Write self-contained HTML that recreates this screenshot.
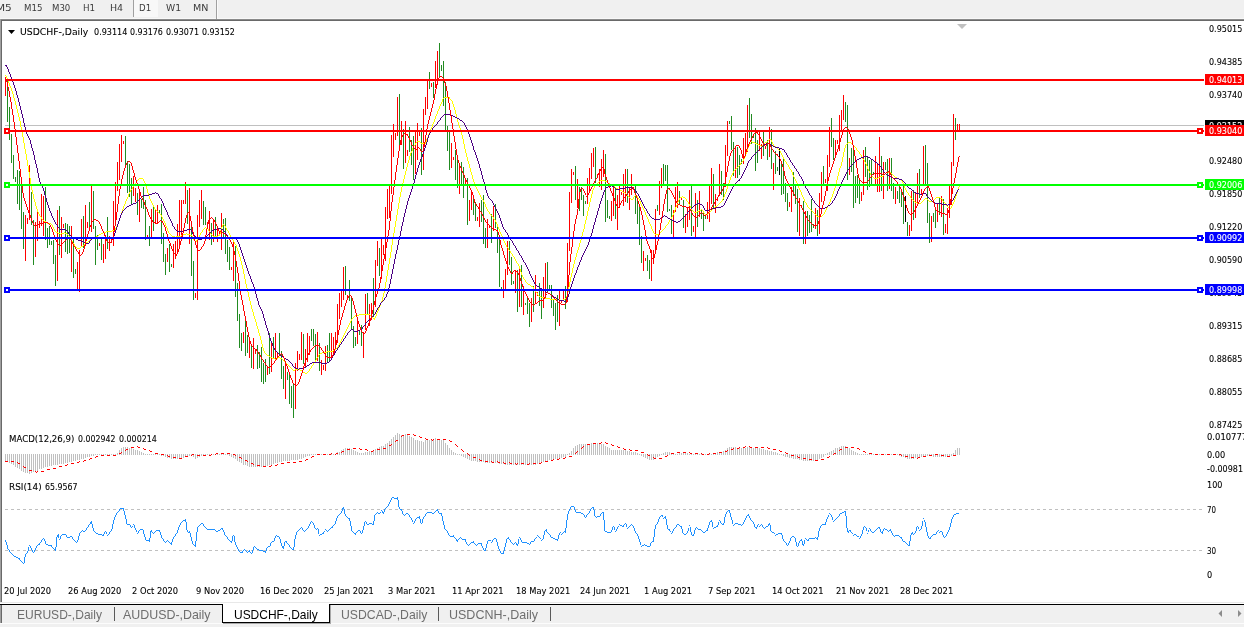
<!DOCTYPE html><html lang="en"><head><meta charset="utf-8"><title>USDCHF-,Daily</title><style>
*{margin:0;padding:0;box-sizing:border-box}
html,body{width:1244px;height:627px;overflow:hidden;background:#fff}
body{position:relative;font-family:"Liberation Sans", sans-serif;font-size:10px;color:#000}
.t{position:absolute;white-space:nowrap;transform-origin:0 0}
.d{font-family:"DejaVu Sans","Liberation Sans",sans-serif;-webkit-text-stroke:0.1px currentColor}
.r{position:absolute}
svg{position:absolute;left:0;top:0}
</style></head><body>
<div class="r" style="left:0px;top:0px;width:1244px;height:19px;background:#f0f0f0"></div>
<div class="r" style="left:0px;top:18px;width:1244px;height:1px;background:#f8f8f8"></div>
<div class="r" style="left:134px;top:0px;width:24px;height:17px;background:#f8f8f8"></div>
<div class="r" style="left:133px;top:0px;width:1px;height:17px;background:#a0a0a0"></div>
<div class="r" style="left:216px;top:0px;width:1px;height:19px;background:#a0a0a0"></div>
<div class="r" style="left:217px;top:0px;width:1px;height:19px;background:#fafafa"></div>
<div class="r" style="left:0px;top:19px;width:1244px;height:1px;background:#8a8a8a"></div>
<div class="r" style="left:0px;top:20px;width:1244px;height:1px;background:#696969"></div>
<div class="r" style="left:0px;top:19px;width:1px;height:584px;background:#a0a0a0"></div>
<div class="r" style="left:1px;top:20px;width:1px;height:583px;background:#696969"></div>
<div class="r" style="left:0px;top:602px;width:1244px;height:1px;background:#e8e8e8"></div>
<div class="r" style="left:0px;top:603px;width:1244px;height:1px;background:#ffffff"></div>
<div class="r" style="left:0px;top:604px;width:1244px;height:1px;background:#000"></div>
<div class="r" style="left:0px;top:605px;width:1244px;height:22px;background:#f0f0f0"></div>
<div class="r" style="left:0px;top:623px;width:1244px;height:1px;background:#fcfcfc"></div>
<div class="r" style="left:0px;top:605px;width:1px;height:18px;background:#a0a0a0"></div>
<div class="r" style="left:1px;top:605px;width:1px;height:18px;background:#696969"></div>
<div class="r" style="left:330px;top:605px;width:1px;height:18px;background:#a8a8a8"></div>
<div class="r" style="left:223px;top:623px;width:108px;height:1px;background:#a8a8a8"></div>
<div class="r" style="left:222px;top:604px;width:108px;height:19px;background:#000"></div>
<div class="r" style="left:223px;top:603px;width:106px;height:19px;background:#fff"></div>
<div class="r" style="left:114px;top:607px;width:1px;height:14px;background:#5a5a5a"></div>
<div class="r" style="left:438px;top:607px;width:1px;height:14px;background:#5a5a5a"></div>
<div class="r" style="left:550px;top:607px;width:1px;height:14px;background:#5a5a5a"></div>
<svg width="1244" height="627" viewBox="0 0 1244 627">
<line x1="5" y1="509.5" x2="1204" y2="509.5" stroke="#c0c0c0" stroke-width="1" stroke-dasharray="3 3" shape-rendering="crispEdges"/>
<line x1="5" y1="550.5" x2="1204" y2="550.5" stroke="#c0c0c0" stroke-width="1" stroke-dasharray="3 3" shape-rendering="crispEdges"/>
<rect x="5" y="125" width="1199" height="1" fill="#c0c0c0" shape-rendering="crispEdges"/>
<path d="M7.5 81V122M9.5 107V140M11.5 134V163M13.5 155V179M15.5 177V182M17.5 170V204M19.5 171V210M21.5 177V229M23.5 212V249M31.5 192V225M33.5 220V265M45.5 187V240M47.5 228V248M49.5 226V245M51.5 241V245M53.5 240V264M55.5 255V286M59.5 206V255M65.5 223V252M67.5 224V254M69.5 226V253M73.5 237V278M75.5 269V274M83.5 216V248M89.5 202V229M93.5 191V229M95.5 226V265M97.5 235V250M101.5 239V260M107.5 217V249M125.5 136V166M127.5 161V193M129.5 164V197M131.5 178V205M137.5 193V215M141.5 199V208M143.5 187V209M145.5 200V240M149.5 226V246M153.5 205V231M159.5 210V213M161.5 204V244M163.5 233V262M165.5 254V275M169.5 244V272M171.5 264V267M187.5 190V224M191.5 224V276M193.5 261V300M203.5 201V225M205.5 207V225M211.5 223V245M215.5 217V236M223.5 219V239M225.5 218V254M227.5 240V262M229.5 247V270M235.5 246V297M237.5 283V321M239.5 314V348M241.5 333V351M245.5 319V356M247.5 335V353M251.5 344V368M257.5 345V369M259.5 352V368M261.5 347V382M263.5 363V384M265.5 359V382M269.5 333V374M273.5 337V359M279.5 333V354M281.5 351V379M283.5 366V389M287.5 372V380M289.5 373V404M291.5 386V408M293.5 383V418M303.5 334V364M311.5 329V341M313.5 329V346M315.5 334V361M319.5 343V371M327.5 345V363M329.5 333V362M345.5 266V295M349.5 280V301M351.5 296V330M353.5 326V348M355.5 337V346M359.5 330V335M361.5 325V346M367.5 293V314M373.5 278V317M379.5 248V276M399.5 94V147M403.5 129V169M409.5 127V152M411.5 140V165M413.5 136V180M421.5 128V175M429.5 72V89M433.5 82V98M439.5 43V78M441.5 65V71M443.5 61V106M445.5 82V132M447.5 126V151M449.5 131V170M455.5 150V180M457.5 158V188M461.5 162V184M463.5 167V198M467.5 178V225M473.5 195V215M475.5 202V221M481.5 200V222M483.5 195V244M485.5 228V248M491.5 214V243M495.5 204V228M497.5 225V253M499.5 240V287M501.5 287V290M509.5 241V265M511.5 257V285M513.5 281V284M517.5 270V312M521.5 265V307M525.5 303V305M527.5 296V314M529.5 303V327M533.5 286V312M539.5 283V306M541.5 291V319M547.5 262V293M549.5 285V289M551.5 285V308M553.5 300V316M555.5 303V330M557.5 295V322M565.5 286V309M575.5 166V200M579.5 187V211M581.5 187V200M583.5 195V216M585.5 201V204M595.5 147V183M605.5 154V222M607.5 200V218M609.5 216V219M615.5 189V219M627.5 169V203M635.5 186V214M637.5 196V224M639.5 206V245M641.5 236V263M647.5 255V271M649.5 260V279M657.5 205V211M663.5 164V184M665.5 165V181M667.5 165V212M669.5 209V211M671.5 205V234M679.5 191V204M683.5 200V228M691.5 186V236M697.5 200V227M701.5 209V219M703.5 212V231M705.5 216V219M713.5 174V208M721.5 171V195M723.5 183V200M729.5 121V124M731.5 116V150M733.5 142V176M737.5 147V178M739.5 155V175M741.5 159V164M749.5 98V138M751.5 114V144M753.5 135V138M755.5 128V171M757.5 140V163M763.5 131V156M767.5 140V160M771.5 129V169M775.5 151V174M777.5 167V171M781.5 164V195M783.5 158V194M785.5 183V202M787.5 193V211M793.5 172V196M795.5 186V204M797.5 189V232M803.5 201V244M807.5 211V236M809.5 215V233M811.5 199V232M813.5 224V228M817.5 210V236M823.5 166V186M831.5 118V147M833.5 138V160M845.5 102V122M847.5 105V180M851.5 148V172M853.5 149V208M855.5 176V203M857.5 175V198M859.5 178V204M865.5 147V177M867.5 157V190M869.5 160V187M871.5 160V186M873.5 172V175M881.5 156V191M885.5 162V170M887.5 159V191M891.5 158V191M893.5 183V199M897.5 191V199M899.5 187V203M901.5 191V207M903.5 186V224M907.5 222V236M913.5 190V220M919.5 169V198M925.5 145V184M927.5 163V223M929.5 213V243M933.5 213V222M935.5 207V228M939.5 198V215M943.5 199V235M955.5 118V140" stroke="#228b22" stroke-width="1" fill="none" shape-rendering="crispEdges"/>
<path d="M5.5 77V96M25.5 215V261M27.5 218V224M29.5 165V220M35.5 222V257M37.5 211V241M39.5 221V228M41.5 194V226M43.5 196V236M57.5 210V281M61.5 217V258M63.5 224V228M71.5 226V272M77.5 262V291M79.5 250V292M81.5 219V246M85.5 205V246M87.5 222V228M91.5 186V232M99.5 243V246M103.5 244V263M105.5 235V259M109.5 236V251M111.5 238V243M113.5 201V246M115.5 182V224M117.5 162V191M119.5 144V180M121.5 135V162M123.5 141V144M133.5 176V196M135.5 188V202M139.5 191V222M147.5 235V237M151.5 209V237M155.5 209V224M157.5 205V224M167.5 248V262M173.5 244V268M175.5 241V259M177.5 224V252M179.5 200V248M181.5 200V238M183.5 200V204M185.5 182V204M189.5 188V244M195.5 293V298M197.5 215V300M199.5 200V227M201.5 190V219M207.5 222V225M209.5 211V240M213.5 220V242M217.5 226V242M219.5 232V235M221.5 213V250M231.5 267V270M233.5 242V281M243.5 332V343M249.5 338V358M253.5 338V369M255.5 350V354M267.5 366V375M271.5 341V372M275.5 333V359M277.5 352V357M285.5 364V399M295.5 363V409M297.5 351V371M299.5 354V360M301.5 332V360M305.5 349V367M307.5 333V362M309.5 336V355M317.5 332V361M321.5 360V375M323.5 365V370M325.5 346V371M331.5 333V358M333.5 337V353M335.5 332V348M337.5 304V343M339.5 293V319M341.5 291V307M343.5 267V300M347.5 295V300M357.5 319V344M363.5 332V358M365.5 294V330M369.5 304V326M371.5 303V320M375.5 260V307M377.5 241V266M381.5 238V279M383.5 245V255M385.5 207V261M387.5 189V219M389.5 186V218M391.5 135V194M393.5 124V157M395.5 133V140M397.5 97V136M401.5 121V145M405.5 121V163M407.5 150V156M415.5 131V174M417.5 123V160M419.5 132V136M423.5 109V170M425.5 97V115M427.5 80V109M431.5 83V87M435.5 61V88M437.5 51V85M451.5 143V168M453.5 157V160M459.5 166V194M465.5 180V184M469.5 200V221M471.5 190V210M477.5 217V221M479.5 203V227M487.5 219V248M489.5 225V228M493.5 206V231M503.5 280V298M505.5 269V289M507.5 241V275M515.5 270V293M519.5 266V307M523.5 286V315M531.5 298V322M535.5 275V304M537.5 292V296M543.5 277V308M545.5 263V298M559.5 291V326M561.5 300V303M563.5 291V300M567.5 243V302M569.5 192V251M571.5 169V203M573.5 172V175M577.5 179V208M587.5 178V204M589.5 168V193M591.5 153V179M593.5 148V167M597.5 174V178M599.5 169V187M601.5 159V190M603.5 150V177M611.5 201V221M613.5 187V216M617.5 195V230M619.5 186V208M621.5 192V195M623.5 174V206M625.5 169V202M629.5 187V210M631.5 174V195M633.5 187V189M643.5 251V271M645.5 258V261M651.5 250V281M653.5 250V264M655.5 209V252M659.5 181V215M661.5 168V188M673.5 210V237M675.5 187V212M677.5 182V208M681.5 198V200M685.5 214V233M687.5 208V227M689.5 190V220M693.5 226V232M695.5 193V237M699.5 191V217M707.5 202V219M709.5 186V222M711.5 168V204M715.5 194V213M717.5 198V201M719.5 164V196M725.5 145V187M727.5 121V156M735.5 148V178M743.5 138V164M745.5 133V156M747.5 105V152M759.5 131V151M761.5 144V159M765.5 146V149M769.5 127V157M773.5 163V190M789.5 202V207M791.5 187V212M799.5 198V236M801.5 205V208M805.5 211V244M815.5 208V229M819.5 193V234M821.5 172V202M825.5 179V183M827.5 155V191M829.5 127V167M835.5 140V156M837.5 140V144M839.5 115V151M841.5 110V131M843.5 95V120M849.5 158V175M861.5 192V201M863.5 150V195M875.5 156V186M877.5 163V192M879.5 137V192M883.5 162V199M889.5 158V189M895.5 187V204M909.5 225V236M911.5 191V231M915.5 192V218M917.5 173V205M921.5 189V194M923.5 146V186M931.5 216V242M937.5 204V222M941.5 196V217M945.5 224V233M947.5 208V234M949.5 185V218M951.5 162V205M953.5 114V166M957.5 124V131M959.5 124V130" stroke="#ff0000" stroke-width="1" fill="none" shape-rendering="crispEdges"/>
<path d="M779.5 149V175M905.5 196V222" stroke="#000000" stroke-width="1" fill="none" shape-rendering="crispEdges"/>
<path d="M5.5 454V462M7.5 454V462M9.5 454V463M11.5 454V464M13.5 454V465M15.5 454V467M17.5 454V468M19.5 454V469M21.5 454V471M23.5 454V472M25.5 454V473M27.5 454V473M29.5 454V474M31.5 454V473M33.5 454V472M35.5 454V471M37.5 454V471M39.5 454V469M41.5 454V469M43.5 454V468M45.5 454V467M47.5 454V467M49.5 454V466M51.5 454V466M53.5 454V465M55.5 454V465M57.5 454V465M59.5 454V464M61.5 454V464M63.5 454V464M65.5 454V463M67.5 454V463M69.5 454V462M71.5 454V462M73.5 454V461M75.5 454V461M77.5 454V460M79.5 454V460M81.5 454V459M83.5 454V459M85.5 454V458M87.5 454V457M89.5 454V457M91.5 454V456M93.5 454V456M95.5 454V455M97.5 454V455M99.5 454V455M101.5 454V455M103.5 454V455M105.5 454V455M107.5 454V455M109.5 454V455M111.5 454V455M113.5 454V455M115.5 454V455M117.5 453V455M119.5 450V455M121.5 448V455M123.5 447V455M125.5 447V455M127.5 447V455M129.5 448V455M131.5 448V455M133.5 449V455M135.5 450V455M137.5 450V455M139.5 451V455M141.5 452V455M143.5 453V455M145.5 454V455M147.5 454V455M149.5 454V455M151.5 454V455M153.5 454V455M155.5 454V455M157.5 454V455M159.5 454V455M161.5 454V456M163.5 454V456M165.5 454V457M167.5 454V458M169.5 454V458M171.5 454V459M173.5 454V459M175.5 454V459M177.5 454V459M179.5 454V459M181.5 454V458M183.5 454V458M185.5 454V457M187.5 454V456M189.5 454V456M191.5 454V456M193.5 454V457M195.5 454V459M197.5 454V458M199.5 454V457M201.5 454V456M203.5 454V456M205.5 454V455M207.5 454V455M209.5 454V455M211.5 454V455M213.5 454V455M215.5 454V455M217.5 454V455M219.5 454V455M221.5 454V455M223.5 454V455M225.5 454V455M227.5 454V455M229.5 454V456M231.5 454V457M233.5 454V458M235.5 454V459M237.5 454V461M239.5 454V462M241.5 454V463M243.5 454V465M245.5 454V465M247.5 454V466M249.5 454V467M251.5 454V467M253.5 454V467M255.5 454V467M257.5 454V467M259.5 454V467M261.5 454V467M263.5 454V467M265.5 454V467M267.5 454V466M269.5 454V465M271.5 454V465M273.5 454V464M275.5 454V463M277.5 454V463M279.5 454V462M281.5 454V462M283.5 454V461M285.5 454V461M287.5 454V461M289.5 454V461M291.5 454V460M293.5 454V460M295.5 454V460M297.5 454V460M299.5 454V459M301.5 454V459M303.5 454V458M305.5 454V457M307.5 454V456M309.5 454V456M311.5 454V455M313.5 454V455M315.5 454V455M317.5 454V455M319.5 454V455M321.5 454V455M323.5 454V455M325.5 454V455M327.5 454V455M329.5 454V455M331.5 454V455M333.5 454V455M335.5 454V455M337.5 452V455M339.5 452V455M341.5 450V455M343.5 449V455M345.5 448V455M347.5 448V455M349.5 448V455M351.5 449V455M353.5 450V455M355.5 451V455M357.5 452V455M359.5 453V455M361.5 453V455M363.5 453V455M365.5 452V455M367.5 452V455M369.5 451V455M371.5 451V455M373.5 450V455M375.5 449V455M377.5 448V455M379.5 447V455M381.5 446V455M383.5 446V455M385.5 444V455M387.5 443V455M389.5 441V455M391.5 439V455M393.5 437V455M395.5 435V455M397.5 433V455M399.5 434V455M401.5 435V455M403.5 435V455M405.5 434V455M407.5 435V455M409.5 436V455M411.5 437V455M413.5 438V455M415.5 440V455M417.5 440V455M419.5 441V455M421.5 441V455M423.5 442V455M425.5 440V455M427.5 440V455M429.5 440V455M431.5 440V455M433.5 439V455M435.5 438V455M437.5 439V455M439.5 439V455M441.5 440V455M443.5 440V455M445.5 443V455M447.5 445V455M449.5 448V455M451.5 450V455M453.5 452V455M455.5 453V455M457.5 454V455M459.5 454V455M461.5 454V456M463.5 454V457M465.5 454V458M467.5 454V459M469.5 454V460M471.5 454V461M473.5 454V461M475.5 454V461M477.5 454V462M479.5 454V462M481.5 454V462M483.5 454V462M485.5 454V463M487.5 454V463M489.5 454V463M491.5 454V463M493.5 454V463M495.5 454V463M497.5 454V463M499.5 454V464M501.5 454V464M503.5 454V464M505.5 454V465M507.5 454V465M509.5 454V465M511.5 454V465M513.5 454V465M515.5 454V465M517.5 454V465M519.5 454V465M521.5 454V465M523.5 454V465M525.5 454V465M527.5 454V465M529.5 454V465M531.5 454V465M533.5 454V465M535.5 454V465M537.5 454V464M539.5 454V463M541.5 454V463M543.5 454V462M545.5 454V461M547.5 454V461M549.5 454V460M551.5 454V460M553.5 454V459M555.5 454V459M557.5 454V459M559.5 454V458M561.5 454V458M563.5 454V457M565.5 454V457M567.5 454V455M569.5 453V455M571.5 451V455M573.5 448V455M575.5 446V455M577.5 445V455M579.5 444V455M581.5 444V455M583.5 444V455M585.5 444V455M587.5 444V455M589.5 444V455M591.5 443V455M593.5 443V455M595.5 443V455M597.5 443V455M599.5 443V455M601.5 444V455M603.5 444V455M605.5 446V455M607.5 447V455M609.5 448V455M611.5 450V455M613.5 450V455M615.5 450V455M617.5 450V455M619.5 450V455M621.5 450V455M623.5 450V455M625.5 450V455M627.5 451V455M629.5 451V455M631.5 452V455M633.5 452V455M635.5 452V455M637.5 453V455M639.5 454V455M641.5 454V456M643.5 454V457M645.5 454V458M647.5 454V459M649.5 454V460M651.5 454V460M653.5 454V460M655.5 454V459M657.5 454V457M659.5 454V456M661.5 454V455M663.5 453V455M665.5 452V455M667.5 452V455M669.5 452V455M671.5 453V455M673.5 453V455M675.5 454V455M677.5 454V455M679.5 453V455M681.5 453V455M683.5 453V455M685.5 453V455M687.5 453V455M689.5 454V455M691.5 454V455M693.5 454V455M695.5 454V455M697.5 454V455M699.5 454V455M701.5 454V455M703.5 454V455M705.5 454V455M707.5 454V455M709.5 454V455M711.5 454V455M713.5 453V455M715.5 453V455M717.5 452V455M719.5 452V455M721.5 452V455M723.5 451V455M725.5 450V455M727.5 448V455M729.5 447V455M731.5 447V455M733.5 447V455M735.5 447V455M737.5 448V455M739.5 448V455M741.5 448V455M743.5 448V455M745.5 448V455M747.5 447V455M749.5 447V455M751.5 447V455M753.5 448V455M755.5 448V455M757.5 448V455M759.5 448V455M761.5 449V455M763.5 449V455M765.5 450V455M767.5 450V455M769.5 451V455M771.5 451V455M773.5 452V455M775.5 452V455M777.5 453V455M779.5 454V455M781.5 454V455M783.5 454V456M785.5 454V457M787.5 454V457M789.5 454V458M791.5 454V458M793.5 454V459M795.5 454V459M797.5 454V459M799.5 454V460M801.5 454V460M803.5 454V461M805.5 454V461M807.5 454V461M809.5 454V461M811.5 454V461M813.5 454V461M815.5 454V461M817.5 454V460M819.5 454V459M821.5 454V458M823.5 454V457M825.5 454V455M827.5 453V455M829.5 452V455M831.5 451V455M833.5 450V455M835.5 448V455M837.5 448V455M839.5 447V455M841.5 446V455M843.5 446V455M845.5 446V455M847.5 447V455M849.5 448V455M851.5 450V455M853.5 451V455M855.5 452V455M857.5 453V455M859.5 454V455M861.5 454V455M863.5 454V455M865.5 454V455M867.5 454V455M869.5 454V455M871.5 454V455M873.5 454V455M875.5 454V455M877.5 454V455M879.5 454V455M881.5 454V455M883.5 454V455M885.5 454V455M887.5 454V455M889.5 454V455M891.5 454V455M893.5 454V455M895.5 454V455M897.5 454V455M899.5 454V456M901.5 454V457M903.5 454V457M905.5 454V458M907.5 454V459M909.5 454V459M911.5 454V459M913.5 454V459M915.5 454V458M917.5 454V458M919.5 454V457M921.5 454V457M923.5 454V456M925.5 454V456M927.5 454V456M929.5 454V456M931.5 454V456M933.5 454V457M935.5 454V457M937.5 454V457M939.5 454V457M941.5 454V457M943.5 454V457M945.5 454V457M947.5 454V457M949.5 454V457M951.5 454V456M953.5 453V455M955.5 450V455M957.5 448V455M959.5 448V455" stroke="#c0c0c0" stroke-width="1" fill="none" shape-rendering="crispEdges"/>
<path d="M5.5 461V462M6.5 461V462M7.5 461V462M11.5 461V462M12.5 461V462M13.5 461V462M17.5 462V463M18.5 463V464M19.5 463V464M23.5 466V467M24.5 467V468M25.5 467V468M29.5 470V471M30.5 470V471M31.5 470V471M35.5 471V472M36.5 472V473M37.5 471V472M41.5 471V472M42.5 471V472M43.5 471V472M47.5 469V470M48.5 469V470M49.5 469V470M53.5 468V469M54.5 468V469M55.5 468V469M59.5 466V467M60.5 466V467M61.5 466V467M65.5 465V466M66.5 465V466M67.5 464V465M71.5 463V464M72.5 463V464M73.5 463V464M77.5 462V463M78.5 462V463M79.5 461V462M83.5 461V462M84.5 460V461M85.5 460V461M89.5 459V460M90.5 458V459M91.5 458V459M95.5 457V458M96.5 456V457M97.5 456V457M101.5 455V456M102.5 455V456M103.5 455V456M107.5 455V456M108.5 455V456M109.5 455V456M113.5 455V456M114.5 455V456M115.5 455V456M119.5 453V454M120.5 453V454M121.5 452V453M125.5 450V451M126.5 449V450M127.5 449V450M131.5 447V448M132.5 447V448M133.5 447V448M137.5 446V447M138.5 447V448M139.5 447V448M143.5 448V449M144.5 449V450M145.5 449V450M149.5 450V451M150.5 451V452M151.5 451V452M155.5 453V454M156.5 453V454M157.5 453V454M161.5 454V455M162.5 454V455M163.5 454V455M167.5 455V456M168.5 456V457M169.5 456V457M173.5 457V458M174.5 457V458M175.5 457V458M179.5 458V459M180.5 458V459M181.5 458V459M185.5 456V457M186.5 456V457M187.5 456V457M191.5 455V456M192.5 454V455M193.5 454V455M197.5 455V456M198.5 455V456M199.5 455V456M203.5 455V456M204.5 455V456M205.5 455V456M209.5 455V456M210.5 455V456M211.5 454V455M215.5 454V455M216.5 453V454M217.5 453V454M221.5 453V454M222.5 453V454M223.5 453V454M227.5 453V454M228.5 453V454M229.5 453V454M233.5 454V455M234.5 454V455M235.5 455V456M239.5 457V458M240.5 457V458M241.5 458V459M245.5 460V461M246.5 460V461M247.5 461V462M251.5 463V464M252.5 463V464M253.5 464V465M257.5 465V466M258.5 465V466M259.5 465V466M263.5 466V467M264.5 466V467M265.5 466V467M269.5 466V467M270.5 466V467M271.5 465V466M275.5 465V466M276.5 465V466M277.5 464V465M281.5 463V464M282.5 463V464M283.5 463V464M287.5 462V463M288.5 462V463M289.5 462V463M293.5 462V463M294.5 462V463M295.5 462V463M299.5 461V462M300.5 461V462M301.5 461V462M305.5 460V461M306.5 459V460M307.5 459V460M311.5 457V458M312.5 456V457M313.5 456V457M317.5 454V455M318.5 454V455M319.5 454V455M323.5 454V455M324.5 454V455M325.5 454V455M329.5 454V455M330.5 454V455M331.5 453V454M335.5 454V455M336.5 453V454M337.5 453V454M341.5 452V453M342.5 451V452M343.5 451V452M347.5 449V450M348.5 449V450M349.5 449V450M353.5 448V449M354.5 448V449M355.5 448V449M359.5 448V449M360.5 449V450M361.5 449V450M365.5 449V450M366.5 449V450M367.5 450V451M371.5 451V452M372.5 451V452M373.5 450V451M377.5 449V450M378.5 449V450M379.5 449V450M383.5 448V449M384.5 448V449M385.5 448V449M389.5 445V446M390.5 445V446M391.5 444V445M395.5 441V442M396.5 440V441M397.5 440V441M401.5 436V437M402.5 435V436M403.5 435V436M407.5 434V435M408.5 434V435M409.5 434V435M413.5 434V435M414.5 435V436M415.5 435V436M419.5 436V437M420.5 437V438M421.5 437V438M425.5 438V439M426.5 439V440M427.5 439V440M431.5 439V440M432.5 440V441M433.5 439V440M437.5 439V440M438.5 439V440M439.5 439V440M443.5 439V440M444.5 439V440M445.5 439V440M449.5 440V441M450.5 441V442M451.5 441V442M455.5 444V445M456.5 445V446M457.5 446V447M461.5 449V450M462.5 450V451M463.5 451V452M467.5 453V454M468.5 454V455M469.5 455V456M473.5 457V458M474.5 457V458M475.5 457V458M479.5 459V460M480.5 460V461M481.5 460V461M485.5 461V462M486.5 461V462M487.5 461V462M491.5 461V462M492.5 462V463M493.5 462V463M497.5 461V462M498.5 462V463M499.5 462V463M503.5 462V463M504.5 463V464M505.5 463V464M509.5 462V463M510.5 463V464M511.5 463V464M515.5 463V464M516.5 464V465M517.5 463V464M521.5 463V464M522.5 463V464M523.5 463V464M527.5 464V465M528.5 464V465M529.5 463V464M533.5 463V464M534.5 463V464M535.5 463V464M539.5 463V464M540.5 463V464M541.5 462V463M545.5 461V462M546.5 461V462M547.5 461V462M551.5 460V461M552.5 460V461M553.5 459V460M557.5 459V460M558.5 459V460M559.5 458V459M563.5 458V459M564.5 458V459M565.5 457V458M569.5 456V457M570.5 456V457M571.5 456V457M575.5 453V454M576.5 452V453M577.5 451V452M581.5 448V449M582.5 447V448M583.5 446V447M587.5 444V445M588.5 444V445M589.5 444V445M593.5 443V444M594.5 443V444M595.5 443V444M599.5 443V444M600.5 443V444M601.5 442V443M605.5 442V443M606.5 443V444M607.5 443V444M611.5 444V445M612.5 445V446M613.5 445V446M617.5 446V447M618.5 447V448M619.5 447V448M623.5 448V449M624.5 449V450M625.5 449V450M629.5 449V450M630.5 450V451M631.5 450V451M635.5 450V451M636.5 450V451M637.5 450V451M641.5 452V453M642.5 452V453M643.5 452V453M647.5 454V455M648.5 455V456M649.5 455V456M653.5 457V458M654.5 458V459M655.5 458V459M659.5 458V459M660.5 458V459M661.5 458V459M665.5 456V457M666.5 456V457M667.5 455V456M671.5 453V454M672.5 453V454M673.5 453V454M677.5 452V453M678.5 452V453M679.5 452V453M683.5 452V453M684.5 452V453M685.5 452V453M689.5 452V453M690.5 453V454M691.5 453V454M695.5 453V454M696.5 453V454M697.5 453V454M701.5 453V454M702.5 454V455M703.5 454V455M707.5 454V455M708.5 454V455M709.5 453V454M713.5 453V454M714.5 453V454M715.5 453V454M719.5 452V453M720.5 452V453M721.5 452V453M725.5 451V452M726.5 451V452M727.5 450V451M731.5 449V450M732.5 449V450M733.5 448V449M737.5 448V449M738.5 448V449M739.5 447V448M743.5 447V448M744.5 447V448M745.5 446V447M749.5 446V447M750.5 447V448M751.5 447V448M755.5 447V448M756.5 447V448M757.5 447V448M761.5 447V448M762.5 447V448M763.5 447V448M767.5 447V448M768.5 448V449M769.5 448V449M773.5 449V450M774.5 449V450M775.5 449V450M779.5 450V451M780.5 451V452M781.5 451V452M785.5 452V453M786.5 453V454M787.5 453V454M791.5 455V456M792.5 455V456M793.5 455V456M797.5 456V457M798.5 457V458M799.5 457V458M803.5 458V459M804.5 458V459M805.5 458V459M809.5 459V460M810.5 459V460M811.5 459V460M815.5 460V461M816.5 460V461M817.5 460V461M821.5 459V460M822.5 459V460M823.5 459V460M827.5 457V458M828.5 457V458M829.5 456V457M833.5 454V455M834.5 453V454M835.5 453V454M839.5 450V451M840.5 449V450M841.5 449V450M845.5 447V448M846.5 447V448M847.5 447V448M851.5 447V448M852.5 447V448M853.5 447V448M857.5 448V449M858.5 448V449M859.5 449V450M863.5 451V452M864.5 451V452M865.5 452V453M869.5 453V454M870.5 453V454M871.5 453V454M875.5 454V455M876.5 454V455M877.5 454V455M881.5 454V455M882.5 454V455M883.5 454V455M887.5 454V455M888.5 454V455M889.5 454V455M893.5 454V455M894.5 454V455M895.5 454V455M899.5 454V455M900.5 454V455M901.5 455V456M905.5 456V457M906.5 456V457M907.5 456V457M911.5 457V458M912.5 457V458M913.5 457V458M917.5 458V459M918.5 457V458M919.5 457V458M923.5 456V457M924.5 456V457M925.5 456V457M929.5 455V456M930.5 455V456M931.5 455V456M935.5 454V455M936.5 454V455M937.5 454V455M941.5 455V456M942.5 455V456M943.5 455V456M947.5 456V457M948.5 456V457M949.5 456V457M953.5 455V456M954.5 455V456M955.5 455V456" stroke="#ff0000" stroke-width="1" fill="none" shape-rendering="crispEdges"/>
<path d="M5.5 540V542M6.5 542V545M7.5 545V549M8.5 549V550M9.5 550V552M10.5 552V553M11.5 553V554M12.5 554V555M13.5 555V556M14.5 556V557M15.5 556V557M16.5 557V558M17.5 557V558M18.5 558V559M19.5 558V560M20.5 560V561M21.5 561V562M22.5 562V563M23.5 563V564M24.5 557V563M25.5 554V557M26.5 553V554M27.5 551V553M28.5 547V551M29.5 545V546M30.5 546V548M31.5 548V550M32.5 550V552M33.5 552V553M34.5 550V552M35.5 548V550M36.5 546V548M37.5 545V546M38.5 544V545M39.5 543V545M40.5 542V543M41.5 540V542M42.5 539V540M43.5 538V539M44.5 539V541M45.5 541V544M46.5 544V545M47.5 544V545M48.5 545V546M49.5 545V546M50.5 545V546M51.5 545V547M52.5 547V548M53.5 548V549M54.5 549V550M55.5 547V551M56.5 537V547M57.5 535V537M58.5 534V538M59.5 539V540M60.5 536V539M61.5 535V536M62.5 534V535M63.5 534V535M64.5 534V535M65.5 534V535M66.5 535V537M67.5 537V538M68.5 537V538M69.5 537V538M70.5 536V537M71.5 536V537M72.5 537V539M73.5 539V540M74.5 540V541M75.5 541V542M76.5 542V543M77.5 540V542M78.5 536V540M79.5 533V536M80.5 532V533M81.5 531V532M82.5 530V531M83.5 531V532M84.5 531V532M85.5 530V531M86.5 528V530M87.5 527V528M88.5 525V527M89.5 524V525M90.5 522V524M91.5 521V524M92.5 524V528M93.5 528V531M94.5 531V532M95.5 532V533M96.5 533V534M97.5 533V534M98.5 534V535M99.5 534V535M100.5 534V535M101.5 534V535M102.5 535V536M103.5 534V536M104.5 532V534M105.5 531V532M106.5 532V534M107.5 535V536M108.5 534V535M109.5 532V534M110.5 531V532M111.5 529V531M112.5 524V529M113.5 520V524M114.5 517V520M115.5 515V517M116.5 513V515M117.5 512V513M118.5 511V512M119.5 509V511M120.5 508V509M121.5 508V509M122.5 508V509M123.5 508V511M124.5 511V515M125.5 515V519M126.5 519V524M127.5 524V525M128.5 524V525M129.5 524V525M130.5 525V527M131.5 527V528M132.5 526V527M133.5 524V525M134.5 525V528M135.5 528V530M136.5 530V532M137.5 533V534M138.5 531V533M139.5 530V531M140.5 529V530M141.5 529V530M142.5 529V530M143.5 530V534M144.5 534V537M145.5 537V540M146.5 540V541M147.5 540V541M148.5 540V541M149.5 538V542M150.5 531V538M151.5 530V532M152.5 532V533M153.5 533V534M154.5 532V533M155.5 531V532M156.5 530V531M157.5 530V531M158.5 530V531M159.5 530V532M160.5 532V535M161.5 535V538M162.5 538V539M163.5 539V541M164.5 541V542M165.5 542V543M166.5 541V542M167.5 540V541M168.5 541V542M169.5 542V543M170.5 543V544M171.5 542V545M172.5 539V542M173.5 537V539M174.5 536V537M175.5 534V536M176.5 533V534M177.5 530V533M178.5 527V530M179.5 525V527M180.5 523V525M181.5 522V523M182.5 521V522M183.5 520V521M184.5 520V521M185.5 519V522M186.5 522V530M187.5 530V532M188.5 532V533M189.5 531V533M190.5 533V537M191.5 537V541M192.5 541V544M193.5 544V545M194.5 545V546M195.5 541V547M196.5 532V541M197.5 527V532M198.5 526V527M199.5 525V526M200.5 524V525M201.5 523V524M202.5 523V524M203.5 524V526M204.5 526V527M205.5 527V528M206.5 528V529M207.5 529V530M208.5 529V530M209.5 529V530M210.5 529V530M211.5 529V530M212.5 529V530M213.5 529V530M214.5 529V530M215.5 530V531M216.5 531V532M217.5 531V532M218.5 530V531M219.5 530V531M220.5 529V530M221.5 528V529M222.5 528V530M223.5 530V532M224.5 532V535M225.5 535V536M226.5 536V537M227.5 537V539M228.5 539V540M229.5 540V541M230.5 541V542M231.5 541V543M232.5 536V541M233.5 535V536M234.5 536V542M235.5 542V545M236.5 545V547M237.5 547V549M238.5 549V551M239.5 551V552M240.5 552V553M241.5 552V553M242.5 551V553M243.5 550V551M244.5 549V550M245.5 550V551M246.5 551V552M247.5 552V553M248.5 551V552M249.5 550V552M250.5 552V553M251.5 553V554M252.5 550V553M253.5 547V550M254.5 546V547M255.5 547V548M256.5 548V549M257.5 549V550M258.5 549V550M259.5 550V551M260.5 550V551M261.5 550V551M262.5 550V551M263.5 551V552M264.5 551V552M265.5 551V553M266.5 548V551M267.5 547V548M268.5 546V547M269.5 546V547M270.5 543V546M271.5 542V543M272.5 541V542M273.5 541V542M274.5 538V541M275.5 536V538M276.5 535V536M277.5 536V537M278.5 536V537M279.5 537V539M280.5 539V543M281.5 543V546M282.5 546V548M283.5 546V549M284.5 542V546M285.5 541V542M286.5 541V543M287.5 543V544M288.5 544V545M289.5 545V547M290.5 547V548M291.5 548V549M292.5 549V550M293.5 547V550M294.5 539V547M295.5 535V539M296.5 532V535M297.5 531V532M298.5 530V531M299.5 529V530M300.5 528V529M301.5 527V528M302.5 528V530M303.5 530V531M304.5 531V532M305.5 530V531M306.5 529V530M307.5 528V529M308.5 526V528M309.5 524V526M310.5 522V524M311.5 521V522M312.5 522V523M313.5 523V525M314.5 525V528M315.5 528V529M316.5 529V530M317.5 528V529M318.5 529V534M319.5 535V536M320.5 534V535M321.5 534V535M322.5 533V534M323.5 532V534M324.5 531V532M325.5 529V530M326.5 530V531M327.5 531V532M328.5 530V531M329.5 529V530M330.5 528V529M331.5 527V528M332.5 526V528M333.5 525V526M334.5 524V525M335.5 521V524M336.5 518V521M337.5 516V518M338.5 515V516M339.5 514V515M340.5 513V514M341.5 511V513M342.5 508V511M343.5 507V509M344.5 509V514M345.5 514V516M346.5 516V517M347.5 517V518M348.5 518V519M349.5 518V521M350.5 521V526M351.5 526V531M352.5 531V532M353.5 532V533M354.5 533V534M355.5 533V535M356.5 532V533M357.5 531V532M358.5 530V531M359.5 530V531M360.5 531V533M361.5 533V534M362.5 530V533M363.5 526V530M364.5 522V526M365.5 521V522M366.5 522V524M367.5 524V525M368.5 524V525M369.5 523V524M370.5 523V524M371.5 523V524M372.5 524V525M373.5 521V525M374.5 515V521M375.5 514V515M376.5 513V514M377.5 512V513M378.5 513V514M379.5 513V514M380.5 512V513M381.5 510V511M382.5 511V513M383.5 512V514M384.5 509V512M385.5 508V509M386.5 507V508M387.5 506V507M388.5 504V506M389.5 502V504M390.5 500V502M391.5 498V500M392.5 497V498M393.5 497V498M394.5 498V499M395.5 498V499M396.5 498V499M397.5 497V500M398.5 500V507M399.5 507V509M400.5 509V510M401.5 509V511M402.5 511V514M403.5 514V515M404.5 515V516M405.5 514V515M406.5 513V514M407.5 513V514M408.5 514V515M409.5 515V517M410.5 517V518M411.5 518V520M412.5 520V522M413.5 523V524M414.5 521V523M415.5 519V521M416.5 518V519M417.5 517V518M418.5 517V518M419.5 516V519M420.5 519V523M421.5 523V524M422.5 519V523M423.5 517V519M424.5 516V517M425.5 514V516M426.5 513V514M427.5 512V513M428.5 512V513M429.5 512V513M430.5 512V513M431.5 512V513M432.5 513V514M433.5 513V514M434.5 512V513M435.5 511V512M436.5 510V511M437.5 509V511M438.5 511V513M439.5 513V514M440.5 513V514M441.5 513V516M442.5 516V521M443.5 521V525M444.5 525V529M445.5 529V530M446.5 530V531M447.5 531V533M448.5 533V535M449.5 535V536M450.5 536V537M451.5 536V537M452.5 536V537M453.5 535V537M454.5 537V538M455.5 538V539M456.5 539V541M457.5 540V542M458.5 539V540M459.5 538V539M460.5 537V538M461.5 538V539M462.5 539V540M463.5 539V540M464.5 539V540M465.5 539V542M466.5 542V544M467.5 544V545M468.5 545V546M469.5 544V545M470.5 543V544M471.5 542V543M472.5 542V543M473.5 541V543M474.5 543V544M475.5 544V545M476.5 545V546M477.5 544V545M478.5 543V544M479.5 543V544M480.5 543V544M481.5 543V546M482.5 546V548M483.5 548V550M484.5 550V551M485.5 548V551M486.5 544V548M487.5 541V544M488.5 540V541M489.5 540V541M490.5 540V541M491.5 542V543M492.5 540V542M493.5 539V540M494.5 538V539M495.5 538V539M496.5 539V542M497.5 542V546M498.5 546V549M499.5 549V551M500.5 551V553M501.5 553V554M502.5 553V554M503.5 551V554M504.5 547V551M505.5 543V547M506.5 539V543M507.5 538V539M508.5 537V539M509.5 539V540M510.5 540V542M511.5 542V543M512.5 543V544M513.5 544V545M514.5 543V544M515.5 542V543M516.5 543V545M517.5 544V546M518.5 539V544M519.5 537V538M520.5 538V540M521.5 540V542M522.5 542V543M523.5 542V543M524.5 542V543M525.5 542V543M526.5 542V543M527.5 543V544M528.5 543V544M529.5 544V545M530.5 542V544M531.5 541V542M532.5 541V542M533.5 541V542M534.5 539V541M535.5 538V539M536.5 537V538M537.5 535V536M538.5 536V537M539.5 537V538M540.5 538V539M541.5 540V541M542.5 539V540M543.5 535V539M544.5 531V535M545.5 530V531M546.5 529V532M547.5 532V533M548.5 533V534M549.5 534V535M550.5 535V537M551.5 537V538M552.5 537V538M553.5 538V539M554.5 538V539M555.5 539V540M556.5 539V540M557.5 539V541M558.5 535V539M559.5 533V535M560.5 532V533M561.5 534V535M562.5 533V534M563.5 532V533M564.5 531V532M565.5 528V533M566.5 520V528M567.5 514V520M568.5 511V514M569.5 509V511M570.5 507V509M571.5 506V507M572.5 506V507M573.5 506V507M574.5 507V510M575.5 510V512M576.5 512V513M577.5 512V513M578.5 512V513M579.5 512V513M580.5 512V513M581.5 513V514M582.5 513V514M583.5 514V515M584.5 515V517M585.5 517V518M586.5 515V517M587.5 514V515M588.5 513V514M589.5 511V513M590.5 509V511M591.5 508V509M592.5 507V508M593.5 507V510M594.5 510V516M595.5 516V517M596.5 517V518M597.5 516V517M598.5 516V517M599.5 516V517M600.5 514V516M601.5 513V514M602.5 512V513M603.5 512V520M604.5 520V531M605.5 531V532M606.5 531V532M607.5 532V533M608.5 532V533M609.5 532V533M610.5 532V533M611.5 530V532M612.5 527V530M613.5 526V527M614.5 527V530M615.5 531V532M616.5 529V531M617.5 527V529M618.5 526V527M619.5 524V525M620.5 525V526M621.5 525V526M622.5 526V527M623.5 525V527M624.5 524V525M625.5 523V524M626.5 524V527M627.5 528V529M628.5 527V528M629.5 526V527M630.5 525V526M631.5 524V525M632.5 525V526M633.5 526V528M634.5 528V531M635.5 531V533M636.5 533V534M637.5 534V536M638.5 536V539M639.5 539V542M640.5 542V545M641.5 546V547M642.5 545V546M643.5 545V546M644.5 544V545M645.5 545V546M646.5 545V546M647.5 546V547M648.5 546V547M649.5 546V547M650.5 543V546M651.5 542V543M652.5 541V542M653.5 537V542M654.5 529V537M655.5 525V529M656.5 524V525M657.5 522V524M658.5 519V522M659.5 517V519M660.5 516V517M661.5 515V516M662.5 515V517M663.5 518V519M664.5 517V518M665.5 516V519M666.5 519V525M667.5 525V529M668.5 529V530M669.5 529V531M670.5 531V532M671.5 533V534M672.5 531V533M673.5 529V531M674.5 528V529M675.5 527V528M676.5 525V527M677.5 524V525M678.5 524V525M679.5 525V526M680.5 526V527M681.5 526V529M682.5 529V533M683.5 533V534M684.5 534V535M685.5 534V535M686.5 533V534M687.5 531V533M688.5 528V531M689.5 525V526M690.5 527V532M691.5 532V535M692.5 535V536M693.5 534V536M694.5 530V534M695.5 528V530M696.5 527V528M697.5 528V529M698.5 529V530M699.5 529V530M700.5 529V530M701.5 530V531M702.5 531V532M703.5 532V533M704.5 532V533M705.5 531V532M706.5 530V531M707.5 528V531M708.5 525V528M709.5 522V525M710.5 521V522M711.5 520V522M712.5 522V527M713.5 528V529M714.5 527V528M715.5 527V528M716.5 526V527M717.5 525V527M718.5 522V525M719.5 520V521M720.5 521V523M721.5 523V524M722.5 524V525M723.5 523V525M724.5 517V523M725.5 514V517M726.5 512V514M727.5 511V512M728.5 510V511M729.5 510V513M730.5 513V517M731.5 517V520M732.5 520V524M733.5 525V526M734.5 524V525M735.5 523V524M736.5 523V524M737.5 523V524M738.5 524V525M739.5 524V525M740.5 524V525M741.5 525V526M742.5 524V525M743.5 522V524M744.5 520V522M745.5 518V520M746.5 516V518M747.5 515V516M748.5 514V516M749.5 516V518M750.5 518V520M751.5 520V521M752.5 521V522M753.5 522V524M754.5 524V527M755.5 527V528M756.5 527V529M757.5 525V527M758.5 524V525M759.5 526V527M760.5 525V526M761.5 524V525M762.5 525V527M763.5 527V528M764.5 528V529M765.5 527V528M766.5 526V527M767.5 526V527M768.5 524V526M769.5 523V525M770.5 525V531M771.5 531V532M772.5 532V533M773.5 532V533M774.5 533V534M775.5 535V536M776.5 534V535M777.5 534V535M778.5 533V534M779.5 533V534M780.5 533V534M781.5 533V535M782.5 535V539M783.5 539V541M784.5 541V542M785.5 542V543M786.5 543V545M787.5 545V546M788.5 543V545M789.5 541V543M790.5 538V541M791.5 537V538M792.5 536V537M793.5 536V537M794.5 537V538M795.5 538V542M796.5 542V546M797.5 546V547M798.5 543V546M799.5 541V543M800.5 540V541M801.5 539V541M802.5 541V545M803.5 544V546M804.5 540V544M805.5 538V539M806.5 539V540M807.5 540V541M808.5 539V541M809.5 538V539M810.5 538V539M811.5 538V539M812.5 538V539M813.5 538V539M814.5 538V539M815.5 537V538M816.5 538V539M817.5 537V540M818.5 531V537M819.5 528V531M820.5 526V528M821.5 525V526M822.5 524V525M823.5 524V525M824.5 524V525M825.5 522V525M826.5 519V522M827.5 517V519M828.5 515V517M829.5 513V514M830.5 514V515M831.5 515V517M832.5 517V520M833.5 521V522M834.5 520V521M835.5 519V520M836.5 518V519M837.5 517V518M838.5 516V517M839.5 514V516M840.5 513V514M841.5 513V514M842.5 512V513M843.5 512V513M844.5 511V512M845.5 511V516M846.5 516V528M847.5 528V532M848.5 531V533M849.5 530V531M850.5 530V532M851.5 532V533M852.5 533V534M853.5 535V536M854.5 534V535M855.5 534V535M856.5 535V536M857.5 536V537M858.5 536V537M859.5 538V539M860.5 536V538M861.5 534V536M862.5 530V534M863.5 527V530M864.5 526V527M865.5 527V528M866.5 528V531M867.5 533V534M868.5 530V532M869.5 528V529M870.5 529V531M871.5 531V532M872.5 532V533M873.5 532V533M874.5 531V532M875.5 530V531M876.5 529V530M877.5 528V529M878.5 527V528M879.5 527V529M880.5 529V532M881.5 532V533M882.5 531V534M883.5 529V531M884.5 528V529M885.5 529V530M886.5 529V530M887.5 530V531M888.5 531V532M889.5 530V531M890.5 529V531M891.5 531V533M892.5 533V535M893.5 535V536M894.5 536V537M895.5 535V536M896.5 535V536M897.5 535V536M898.5 535V536M899.5 536V537M900.5 537V538M901.5 537V539M902.5 539V541M903.5 541V542M904.5 541V542M905.5 542V543M906.5 543V544M907.5 544V545M908.5 545V546M909.5 541V546M910.5 535V541M911.5 533V535M912.5 532V534M913.5 534V535M914.5 533V534M915.5 531V533M916.5 527V531M917.5 526V527M918.5 527V529M919.5 530V531M920.5 529V530M921.5 526V529M922.5 521V526M923.5 518V519M924.5 520V522M925.5 522V527M926.5 527V532M927.5 532V536M928.5 536V538M929.5 538V539M930.5 537V539M931.5 536V537M932.5 535V536M933.5 534V535M934.5 534V535M935.5 534V535M936.5 532V534M937.5 531V532M938.5 530V531M939.5 532V533M940.5 531V532M941.5 531V532M942.5 532V535M943.5 535V537M944.5 537V538M945.5 536V537M946.5 534V536M947.5 532V534M948.5 530V532M949.5 527V530M950.5 523V527M951.5 519V523M952.5 517V519M953.5 515V517M954.5 514V515M955.5 514V515M956.5 513V514M957.5 513V514M958.5 513V514" stroke="#1e90ff" stroke-width="1" fill="none" shape-rendering="crispEdges"/>
<path d="M5.5 75V76M6.5 76V78M7.5 78V80M8.5 80V83M9.5 83V86M10.5 86V88M11.5 88V91M12.5 91V94M13.5 94V98M14.5 98V101M15.5 101V105M16.5 105V109M17.5 109V113M18.5 113V117M19.5 117V121M20.5 121V127M21.5 127V132M22.5 132V137M23.5 137V143M24.5 143V149M25.5 149V154M26.5 154V160M27.5 160V166M28.5 166V172M29.5 172V178M30.5 178V184M31.5 184V190M32.5 190V194M33.5 194V199M34.5 199V202M35.5 202V206M36.5 206V209M37.5 209V212M38.5 212V214M39.5 214V216M40.5 216V217M41.5 217V219M42.5 219V220M43.5 220V221M44.5 221V222M45.5 221V222M46.5 222V223M47.5 223V224M48.5 223V224M49.5 223V224M50.5 223V224M51.5 224V225M52.5 225V227M53.5 227V229M54.5 229V231M55.5 231V232M56.5 232V233M57.5 232V233M58.5 233V234M59.5 233V234M60.5 234V235M61.5 233V234M62.5 233V234M63.5 233V234M64.5 232V233M65.5 233V234M66.5 233V234M67.5 234V235M68.5 235V236M69.5 236V238M70.5 238V239M71.5 239V241M72.5 241V243M73.5 243V244M74.5 244V246M75.5 246V247M76.5 247V248M77.5 248V249M78.5 248V249M79.5 248V249M80.5 247V248M81.5 246V247M82.5 246V247M83.5 245V246M84.5 244V245M85.5 243V244M86.5 242V243M87.5 242V243M88.5 241V242M89.5 240V241M90.5 239V240M91.5 239V240M92.5 238V239M93.5 238V239M94.5 237V238M95.5 237V238M96.5 236V237M97.5 236V237M98.5 235V236M99.5 234V235M100.5 234V235M101.5 233V234M102.5 233V234M103.5 232V233M104.5 232V233M105.5 232V233M106.5 231V232M107.5 231V232M108.5 231V232M109.5 231V232M110.5 231V232M111.5 231V232M112.5 230V231M113.5 230V231M114.5 230V231M115.5 228V230M116.5 226V228M117.5 224V226M118.5 221V224M119.5 218V221M120.5 215V218M121.5 212V215M122.5 209V212M123.5 206V209M124.5 204V206M125.5 201V204M126.5 199V201M127.5 197V199M128.5 194V197M129.5 192V194M130.5 190V192M131.5 189V190M132.5 187V189M133.5 185V187M134.5 184V185M135.5 183V184M136.5 181V183M137.5 180V181M138.5 179V180M139.5 178V179M140.5 178V179M141.5 178V179M142.5 178V179M143.5 179V181M144.5 181V183M145.5 183V186M146.5 186V189M147.5 189V193M148.5 193V196M149.5 196V199M150.5 199V201M151.5 201V203M152.5 203V205M153.5 205V207M154.5 207V209M155.5 209V210M156.5 210V211M157.5 211V212M158.5 212V213M159.5 213V214M160.5 214V215M161.5 215V217M162.5 217V219M163.5 219V221M164.5 221V223M165.5 223V226M166.5 226V228M167.5 228V231M168.5 231V233M169.5 233V234M170.5 234V235M171.5 235V236M172.5 236V237M173.5 236V237M174.5 236V237M175.5 237V238M176.5 236V237M177.5 236V237M178.5 236V237M179.5 236V237M180.5 236V237M181.5 235V236M182.5 235V236M183.5 234V235M184.5 234V235M185.5 234V235M186.5 233V234M187.5 234V235M188.5 234V235M189.5 234V235M190.5 235V236M191.5 235V236M192.5 236V238M193.5 238V240M194.5 240V241M195.5 241V242M196.5 240V242M197.5 238V240M198.5 237V238M199.5 235V237M200.5 233V235M201.5 232V233M202.5 230V232M203.5 229V230M204.5 228V229M205.5 227V228M206.5 228V229M207.5 228V229M208.5 229V231M209.5 231V232M210.5 232V234M211.5 234V235M212.5 235V236M213.5 236V237M214.5 236V237M215.5 236V237M216.5 236V237M217.5 236V237M218.5 235V236M219.5 234V236M220.5 230V234M221.5 227V230M222.5 225V227M223.5 224V225M224.5 225V226M225.5 226V228M226.5 228V230M227.5 230V231M228.5 231V233M229.5 233V235M230.5 235V237M231.5 237V238M232.5 238V240M233.5 240V242M234.5 242V244M235.5 244V245M236.5 245V248M237.5 248V251M238.5 251V254M239.5 254V257M240.5 257V261M241.5 261V265M242.5 265V269M243.5 269V274M244.5 274V279M245.5 279V284M246.5 284V288M247.5 288V292M248.5 292V297M249.5 297V301M250.5 301V305M251.5 305V309M252.5 309V312M253.5 312V316M254.5 316V319M255.5 319V322M256.5 322V326M257.5 326V329M258.5 329V333M259.5 333V336M260.5 336V340M261.5 340V344M262.5 344V348M263.5 348V351M264.5 351V353M265.5 353V354M266.5 354V355M267.5 355V356M268.5 355V356M269.5 356V357M270.5 357V358M271.5 357V358M272.5 358V359M273.5 358V359M274.5 358V359M275.5 359V360M276.5 358V359M277.5 358V359M278.5 357V358M279.5 357V358M280.5 358V359M281.5 358V359M282.5 359V360M283.5 360V361M284.5 361V362M285.5 362V363M286.5 363V364M287.5 364V365M288.5 365V366M289.5 366V367M290.5 367V368M291.5 368V369M292.5 369V370M293.5 370V371M294.5 370V371M295.5 369V370M296.5 369V370M297.5 369V370M298.5 369V370M299.5 369V370M300.5 370V371M301.5 370V371M302.5 371V372M303.5 372V373M304.5 372V373M305.5 373V374M306.5 373V374M307.5 372V373M308.5 371V372M309.5 369V371M310.5 368V369M311.5 366V368M312.5 365V366M313.5 363V365M314.5 362V363M315.5 360V362M316.5 358V360M317.5 357V358M318.5 355V357M319.5 354V355M320.5 353V354M321.5 353V354M322.5 352V353M323.5 352V353M324.5 352V353M325.5 352V353M326.5 352V353M327.5 351V352M328.5 351V352M329.5 351V352M330.5 351V352M331.5 351V352M332.5 351V352M333.5 350V351M334.5 350V351M335.5 349V350M336.5 348V349M337.5 347V348M338.5 345V347M339.5 343V345M340.5 341V343M341.5 339V341M342.5 337V339M343.5 335V337M344.5 333V335M345.5 331V333M346.5 329V331M347.5 327V329M348.5 325V327M349.5 323V325M350.5 321V323M351.5 319V321M352.5 318V319M353.5 317V318M354.5 316V317M355.5 315V316M356.5 315V316M357.5 315V316M358.5 315V316M359.5 314V315M360.5 314V315M361.5 314V315M362.5 314V315M363.5 314V315M364.5 314V315M365.5 314V315M366.5 314V315M367.5 314V315M368.5 314V315M369.5 314V315M370.5 315V316M371.5 315V317M372.5 317V318M373.5 318V319M374.5 318V320M375.5 316V318M376.5 313V316M377.5 311V313M378.5 308V311M379.5 306V308M380.5 303V306M381.5 301V303M382.5 297V301M383.5 293V297M384.5 288V293M385.5 282V288M386.5 276V282M387.5 270V276M388.5 264V270M389.5 258V264M390.5 252V258M391.5 245V252M392.5 239V245M393.5 233V239M394.5 227V233M395.5 221V227M396.5 215V221M397.5 209V215M398.5 203V209M399.5 197V203M400.5 192V197M401.5 187V192M402.5 183V187M403.5 179V183M404.5 175V179M405.5 171V175M406.5 167V171M407.5 163V167M408.5 160V163M409.5 156V160M410.5 153V156M411.5 151V153M412.5 148V151M413.5 146V148M414.5 145V146M415.5 143V145M416.5 142V143M417.5 141V142M418.5 141V142M419.5 141V142M420.5 142V143M421.5 143V144M422.5 143V144M423.5 143V144M424.5 143V144M425.5 142V144M426.5 139V142M427.5 137V139M428.5 134V137M429.5 132V134M430.5 129V132M431.5 127V129M432.5 124V127M433.5 122V124M434.5 119V122M435.5 116V119M436.5 114V116M437.5 111V114M438.5 109V111M439.5 106V109M440.5 104V106M441.5 102V104M442.5 99V102M443.5 98V99M444.5 97V98M445.5 97V98M446.5 97V98M447.5 97V98M448.5 97V98M449.5 97V99M450.5 99V100M451.5 100V101M452.5 101V104M453.5 104V107M454.5 107V110M455.5 110V114M456.5 114V118M457.5 118V122M458.5 122V125M459.5 125V128M460.5 128V131M461.5 131V135M462.5 135V139M463.5 139V144M464.5 144V149M465.5 149V153M466.5 153V157M467.5 157V161M468.5 161V164M469.5 164V168M470.5 168V172M471.5 172V175M472.5 175V179M473.5 179V182M474.5 182V184M475.5 184V187M476.5 187V189M477.5 189V191M478.5 191V193M479.5 193V195M480.5 195V197M481.5 197V199M482.5 199V200M483.5 200V202M484.5 202V204M485.5 204V207M486.5 207V209M487.5 209V211M488.5 211V212M489.5 212V214M490.5 214V215M491.5 215V216M492.5 216V217M493.5 217V219M494.5 219V220M495.5 220V222M496.5 222V224M497.5 224V227M498.5 227V229M499.5 229V232M500.5 232V234M501.5 234V236M502.5 236V239M503.5 239V241M504.5 241V243M505.5 243V245M506.5 245V247M507.5 247V248M508.5 248V250M509.5 250V251M510.5 251V253M511.5 253V254M512.5 254V256M513.5 256V257M514.5 257V259M515.5 259V261M516.5 261V263M517.5 263V264M518.5 264V266M519.5 266V269M520.5 269V272M521.5 272V275M522.5 275V277M523.5 277V279M524.5 279V280M525.5 280V282M526.5 282V283M527.5 283V284M528.5 284V285M529.5 284V285M530.5 285V286M531.5 286V287M532.5 286V287M533.5 287V289M534.5 289V290M535.5 290V292M536.5 292V293M537.5 293V295M538.5 295V296M539.5 296V297M540.5 296V297M541.5 297V298M542.5 297V298M543.5 297V298M544.5 298V299M545.5 298V299M546.5 298V299M547.5 298V299M548.5 298V299M549.5 298V299M550.5 299V300M551.5 299V300M552.5 299V300M553.5 299V300M554.5 299V300M555.5 299V300M556.5 299V300M557.5 299V300M558.5 299V300M559.5 299V300M560.5 300V301M561.5 300V301M562.5 300V301M563.5 299V300M564.5 299V300M565.5 298V299M566.5 296V298M567.5 292V296M568.5 287V292M569.5 282V287M570.5 277V282M571.5 273V277M572.5 268V273M573.5 264V268M574.5 260V264M575.5 257V260M576.5 253V257M577.5 250V253M578.5 247V250M579.5 243V247M580.5 240V243M581.5 236V240M582.5 232V236M583.5 229V232M584.5 224V229M585.5 220V224M586.5 216V220M587.5 211V216M588.5 207V211M589.5 202V207M590.5 198V202M591.5 194V198M592.5 190V194M593.5 188V190M594.5 186V188M595.5 185V186M596.5 184V185M597.5 183V184M598.5 182V183M599.5 181V182M600.5 180V181M601.5 180V181M602.5 180V181M603.5 180V181M604.5 180V181M605.5 181V182M606.5 181V182M607.5 182V183M608.5 183V184M609.5 183V184M610.5 184V185M611.5 185V186M612.5 185V186M613.5 186V187M614.5 186V187M615.5 187V188M616.5 188V189M617.5 188V189M618.5 189V190M619.5 189V190M620.5 190V191M621.5 190V191M622.5 191V192M623.5 192V193M624.5 192V193M625.5 193V194M626.5 194V195M627.5 195V196M628.5 196V197M629.5 197V198M630.5 198V199M631.5 199V200M632.5 199V200M633.5 197V199M634.5 196V197M635.5 195V196M636.5 195V196M637.5 196V198M638.5 198V199M639.5 199V201M640.5 201V204M641.5 204V206M642.5 206V208M643.5 208V210M644.5 210V212M645.5 212V215M646.5 215V217M647.5 217V219M648.5 219V222M649.5 222V224M650.5 224V226M651.5 226V229M652.5 229V231M653.5 231V233M654.5 233V234M655.5 234V235M656.5 234V235M657.5 234V235M658.5 234V235M659.5 233V234M660.5 232V233M661.5 231V232M662.5 230V231M663.5 229V230M664.5 228V229M665.5 226V228M666.5 225V226M667.5 224V225M668.5 222V224M669.5 220V222M670.5 219V220M671.5 217V219M672.5 215V217M673.5 213V215M674.5 210V213M675.5 207V210M676.5 205V207M677.5 202V205M678.5 200V202M679.5 198V200M680.5 197V198M681.5 197V198M682.5 196V197M683.5 197V198M684.5 197V198M685.5 198V199M686.5 199V201M687.5 201V202M688.5 202V204M689.5 204V206M690.5 206V208M691.5 208V210M692.5 210V211M693.5 211V212M694.5 212V213M695.5 212V213M696.5 212V213M697.5 211V212M698.5 211V212M699.5 210V211M700.5 210V211M701.5 209V210M702.5 210V211M703.5 211V213M704.5 213V214M705.5 214V215M706.5 214V215M707.5 214V215M708.5 213V214M709.5 212V213M710.5 211V212M711.5 210V211M712.5 209V210M713.5 208V209M714.5 207V208M715.5 206V207M716.5 206V207M717.5 205V206M718.5 204V205M719.5 203V204M720.5 202V203M721.5 201V202M722.5 199V201M723.5 197V199M724.5 194V197M725.5 192V194M726.5 189V192M727.5 186V189M728.5 183V186M729.5 180V183M730.5 177V180M731.5 175V177M732.5 173V175M733.5 171V173M734.5 170V171M735.5 169V170M736.5 168V169M737.5 167V168M738.5 166V167M739.5 165V166M740.5 163V165M741.5 162V163M742.5 161V162M743.5 159V161M744.5 157V159M745.5 154V157M746.5 151V154M747.5 148V151M748.5 146V148M749.5 144V146M750.5 143V144M751.5 141V142M752.5 142V143M753.5 142V143M754.5 142V143M755.5 143V144M756.5 143V144M757.5 144V145M758.5 144V145M759.5 145V146M760.5 145V146M761.5 146V147M762.5 145V146M763.5 145V146M764.5 143V145M765.5 142V143M766.5 142V143M767.5 141V142M768.5 140V141M769.5 139V140M770.5 139V140M771.5 140V142M772.5 142V144M773.5 144V146M774.5 146V147M775.5 146V147M776.5 147V148M777.5 148V149M778.5 149V150M779.5 150V151M780.5 151V153M781.5 153V155M782.5 155V157M783.5 157V159M784.5 159V161M785.5 161V162M786.5 162V164M787.5 164V165M788.5 165V167M789.5 167V169M790.5 169V170M791.5 170V172M792.5 172V175M793.5 175V177M794.5 177V179M795.5 179V181M796.5 181V183M797.5 183V186M798.5 186V188M799.5 188V190M800.5 190V192M801.5 192V195M802.5 195V197M803.5 197V199M804.5 199V202M805.5 202V203M806.5 203V205M807.5 205V207M808.5 207V208M809.5 208V209M810.5 209V210M811.5 210V211M812.5 211V212M813.5 212V213M814.5 213V214M815.5 214V215M816.5 215V216M817.5 216V217M818.5 216V217M819.5 217V218M820.5 216V217M821.5 216V217M822.5 215V216M823.5 214V215M824.5 212V214M825.5 210V212M826.5 208V210M827.5 206V208M828.5 204V206M829.5 202V204M830.5 199V202M831.5 197V199M832.5 194V197M833.5 191V194M834.5 188V191M835.5 184V188M836.5 180V184M837.5 176V180M838.5 172V176M839.5 168V172M840.5 166V168M841.5 162V166M842.5 157V162M843.5 152V157M844.5 148V152M845.5 145V148M846.5 144V145M847.5 143V144M848.5 142V143M849.5 142V143M850.5 142V143M851.5 143V144M852.5 144V145M853.5 145V146M854.5 146V147M855.5 147V148M856.5 148V150M857.5 150V151M858.5 151V152M859.5 152V154M860.5 154V155M861.5 155V157M862.5 157V159M863.5 159V160M864.5 160V162M865.5 162V164M866.5 164V166M867.5 166V169M868.5 169V171M869.5 171V173M870.5 173V175M871.5 175V176M872.5 176V177M873.5 177V178M874.5 178V179M875.5 178V179M876.5 178V179M877.5 178V179M878.5 177V178M879.5 177V178M880.5 176V177M881.5 176V177M882.5 176V177M883.5 175V176M884.5 174V175M885.5 173V174M886.5 172V173M887.5 172V173M888.5 172V173M889.5 172V173M890.5 172V173M891.5 173V174M892.5 174V175M893.5 175V176M894.5 176V177M895.5 177V178M896.5 177V178M897.5 178V179M898.5 178V179M899.5 179V180M900.5 179V180M901.5 180V181M902.5 181V183M903.5 183V186M904.5 186V188M905.5 188V190M906.5 190V192M907.5 192V193M908.5 193V195M909.5 195V196M910.5 196V198M911.5 198V199M912.5 199V200M913.5 200V201M914.5 201V202M915.5 202V203M916.5 202V203M917.5 203V204M918.5 203V204M919.5 203V204M920.5 203V204M921.5 202V203M922.5 201V202M923.5 200V201M924.5 199V200M925.5 198V199M926.5 198V199M927.5 199V200M928.5 200V201M929.5 201V202M930.5 201V202M931.5 201V202M932.5 201V202M933.5 200V201M934.5 199V200M935.5 198V199M936.5 197V198M937.5 197V198M938.5 197V198M939.5 197V198M940.5 198V199M941.5 198V199M942.5 199V201M943.5 201V202M944.5 202V203M945.5 203V205M946.5 205V206M947.5 206V207M948.5 207V208M949.5 208V209M950.5 208V209M951.5 206V208M952.5 204V206M953.5 202V204M954.5 199V202M955.5 196V199M956.5 193V196M957.5 190V193M958.5 187V190M959.5 186V187" stroke="#ffff00" stroke-width="1" fill="none" shape-rendering="crispEdges"/>
<path d="M5.5 65V66M6.5 65V67M7.5 67V69M8.5 69V72M9.5 72V74M10.5 74V77M11.5 77V79M12.5 79V82M13.5 82V85M14.5 85V88M15.5 88V91M16.5 91V95M17.5 95V98M18.5 98V102M19.5 102V106M20.5 106V110M21.5 110V114M22.5 114V118M23.5 118V123M24.5 123V127M25.5 127V131M26.5 131V134M27.5 134V136M28.5 136V138M29.5 138V140M30.5 140V144M31.5 144V148M32.5 148V151M33.5 151V155M34.5 155V160M35.5 160V164M36.5 164V168M37.5 168V173M38.5 173V178M39.5 178V182M40.5 182V184M41.5 184V186M42.5 186V188M43.5 188V191M44.5 191V195M45.5 195V198M46.5 198V202M47.5 202V205M48.5 205V208M49.5 208V211M50.5 211V213M51.5 213V216M52.5 216V218M53.5 218V220M54.5 220V222M55.5 222V224M56.5 224V225M57.5 225V227M58.5 227V228M59.5 228V229M60.5 229V230M61.5 229V230M62.5 229V230M63.5 229V230M64.5 229V230M65.5 229V230M66.5 230V231M67.5 231V232M68.5 232V234M69.5 234V235M70.5 235V236M71.5 236V237M72.5 237V238M73.5 237V238M74.5 238V239M75.5 238V239M76.5 239V240M77.5 239V240M78.5 240V241M79.5 240V241M80.5 240V241M81.5 241V242M82.5 241V242M83.5 241V242M84.5 242V243M85.5 243V244M86.5 243V244M87.5 243V244M88.5 243V244M89.5 241V243M90.5 240V241M91.5 239V240M92.5 238V239M93.5 238V239M94.5 237V238M95.5 237V238M96.5 237V238M97.5 237V238M98.5 237V238M99.5 237V238M100.5 237V238M101.5 237V238M102.5 237V238M103.5 237V238M104.5 237V238M105.5 237V238M106.5 237V238M107.5 237V238M108.5 237V238M109.5 237V238M110.5 237V238M111.5 237V238M112.5 237V238M113.5 236V238M114.5 233V236M115.5 230V233M116.5 227V230M117.5 224V227M118.5 221V224M119.5 218V221M120.5 215V218M121.5 213V215M122.5 211V213M123.5 210V211M124.5 209V210M125.5 208V209M126.5 207V208M127.5 206V207M128.5 206V207M129.5 205V206M130.5 205V206M131.5 204V205M132.5 204V205M133.5 203V204M134.5 203V204M135.5 203V204M136.5 202V203M137.5 201V202M138.5 200V201M139.5 199V200M140.5 198V199M141.5 197V198M142.5 196V197M143.5 195V196M144.5 195V196M145.5 195V196M146.5 195V196M147.5 195V196M148.5 195V196M149.5 194V195M150.5 194V195M151.5 194V195M152.5 193V194M153.5 193V194M154.5 193V194M155.5 192V193M156.5 193V194M157.5 193V194M158.5 194V196M159.5 196V198M160.5 198V199M161.5 199V201M162.5 201V203M163.5 203V206M164.5 206V208M165.5 208V210M166.5 210V212M167.5 212V215M168.5 215V217M169.5 217V219M170.5 219V221M171.5 221V223M172.5 223V226M173.5 226V227M174.5 227V229M175.5 229V230M176.5 230V231M177.5 231V232M178.5 231V232M179.5 231V232M180.5 231V232M181.5 231V232M182.5 231V232M183.5 231V232M184.5 230V231M185.5 230V231M186.5 230V231M187.5 229V230M188.5 229V230M189.5 229V230M190.5 229V230M191.5 230V232M192.5 232V234M193.5 234V235M194.5 235V236M195.5 236V238M196.5 238V239M197.5 238V239M198.5 239V240M199.5 239V240M200.5 239V240M201.5 239V240M202.5 238V239M203.5 238V239M204.5 237V238M205.5 237V238M206.5 236V237M207.5 235V236M208.5 234V235M209.5 233V234M210.5 232V233M211.5 231V232M212.5 230V231M213.5 230V231M214.5 229V230M215.5 229V230M216.5 229V230M217.5 228V229M218.5 228V229M219.5 228V229M220.5 228V229M221.5 229V230M222.5 229V230M223.5 230V231M224.5 231V232M225.5 232V234M226.5 234V235M227.5 235V237M228.5 237V238M229.5 237V238M230.5 238V239M231.5 238V239M232.5 237V238M233.5 237V238M234.5 237V238M235.5 237V238M236.5 238V240M237.5 240V242M238.5 242V244M239.5 244V247M240.5 247V250M241.5 250V253M242.5 253V256M243.5 256V259M244.5 259V262M245.5 262V265M246.5 265V268M247.5 268V271M248.5 271V274M249.5 274V276M250.5 276V279M251.5 279V282M252.5 282V284M253.5 284V287M254.5 287V290M255.5 290V294M256.5 294V298M257.5 298V301M258.5 301V305M259.5 305V307M260.5 307V309M261.5 309V311M262.5 311V314M263.5 314V318M264.5 318V321M265.5 321V325M266.5 325V328M267.5 328V331M268.5 331V335M269.5 335V338M270.5 338V341M271.5 341V343M272.5 343V346M273.5 346V348M274.5 348V350M275.5 350V351M276.5 351V352M277.5 352V353M278.5 353V354M279.5 354V355M280.5 355V356M281.5 356V357M282.5 356V357M283.5 357V358M284.5 358V359M285.5 358V359M286.5 359V360M287.5 359V360M288.5 360V361M289.5 361V362M290.5 362V363M291.5 363V364M292.5 364V366M293.5 366V367M294.5 367V368M295.5 367V368M296.5 368V369M297.5 368V369M298.5 369V370M299.5 368V369M300.5 368V369M301.5 368V369M302.5 368V369M303.5 367V368M304.5 367V368M305.5 367V368M306.5 366V367M307.5 365V366M308.5 365V366M309.5 364V365M310.5 363V364M311.5 363V364M312.5 362V363M313.5 362V363M314.5 362V363M315.5 362V363M316.5 362V363M317.5 362V363M318.5 362V363M319.5 362V363M320.5 362V363M321.5 363V364M322.5 363V364M323.5 363V364M324.5 363V364M325.5 363V364M326.5 363V364M327.5 362V363M328.5 362V363M329.5 361V362M330.5 360V361M331.5 358V360M332.5 356V358M333.5 355V356M334.5 353V355M335.5 351V353M336.5 350V351M337.5 348V350M338.5 347V348M339.5 345V347M340.5 344V345M341.5 342V344M342.5 341V342M343.5 339V341M344.5 338V339M345.5 336V338M346.5 335V336M347.5 333V335M348.5 332V333M349.5 331V332M350.5 330V331M351.5 329V330M352.5 329V330M353.5 330V331M354.5 331V332M355.5 331V332M356.5 331V332M357.5 331V332M358.5 330V331M359.5 330V331M360.5 329V330M361.5 329V330M362.5 327V329M363.5 326V327M364.5 325V326M365.5 323V325M366.5 322V323M367.5 321V322M368.5 320V321M369.5 319V320M370.5 318V319M371.5 317V318M372.5 316V317M373.5 315V316M374.5 314V315M375.5 312V314M376.5 310V312M377.5 308V310M378.5 307V308M379.5 305V307M380.5 303V305M381.5 302V303M382.5 301V302M383.5 300V301M384.5 298V300M385.5 297V298M386.5 294V297M387.5 292V294M388.5 288V292M389.5 284V288M390.5 279V284M391.5 274V279M392.5 269V274M393.5 264V269M394.5 259V264M395.5 254V259M396.5 250V254M397.5 245V250M398.5 240V245M399.5 236V240M400.5 231V236M401.5 226V231M402.5 222V226M403.5 217V222M404.5 213V217M405.5 209V213M406.5 205V209M407.5 201V205M408.5 198V201M409.5 195V198M410.5 192V195M411.5 189V192M412.5 186V189M413.5 183V186M414.5 179V183M415.5 175V179M416.5 172V175M417.5 168V172M418.5 165V168M419.5 162V165M420.5 159V162M421.5 157V159M422.5 154V157M423.5 151V154M424.5 148V151M425.5 145V148M426.5 142V145M427.5 138V142M428.5 135V138M429.5 133V135M430.5 131V133M431.5 130V131M432.5 128V130M433.5 127V128M434.5 126V127M435.5 125V126M436.5 124V125M437.5 122V124M438.5 121V122M439.5 120V121M440.5 118V120M441.5 117V118M442.5 116V117M443.5 115V116M444.5 114V115M445.5 114V115M446.5 114V115M447.5 114V115M448.5 114V115M449.5 114V115M450.5 115V116M451.5 115V116M452.5 115V116M453.5 116V117M454.5 116V117M455.5 117V118M456.5 117V118M457.5 118V119M458.5 118V119M459.5 119V120M460.5 120V121M461.5 120V121M462.5 121V122M463.5 122V123M464.5 123V125M465.5 125V127M466.5 127V129M467.5 129V131M468.5 131V134M469.5 134V137M470.5 137V140M471.5 140V143M472.5 143V146M473.5 146V150M474.5 150V152M475.5 152V155M476.5 155V158M477.5 158V161M478.5 161V164M479.5 164V168M480.5 168V171M481.5 171V175M482.5 175V179M483.5 179V182M484.5 182V186M485.5 186V190M486.5 190V193M487.5 193V196M488.5 196V198M489.5 198V199M490.5 199V200M491.5 200V201M492.5 201V203M493.5 203V205M494.5 205V207M495.5 207V209M496.5 209V211M497.5 211V213M498.5 213V215M499.5 215V218M500.5 218V221M501.5 221V224M502.5 224V227M503.5 227V229M504.5 229V230M505.5 230V232M506.5 232V233M507.5 233V235M508.5 235V237M509.5 237V238M510.5 238V240M511.5 240V241M512.5 241V243M513.5 243V245M514.5 245V246M515.5 246V248M516.5 248V250M517.5 250V251M518.5 251V253M519.5 253V255M520.5 255V256M521.5 256V258M522.5 258V260M523.5 260V262M524.5 262V263M525.5 263V265M526.5 265V267M527.5 267V269M528.5 269V271M529.5 271V274M530.5 274V276M531.5 276V278M532.5 278V280M533.5 280V282M534.5 282V284M535.5 284V285M536.5 285V286M537.5 286V287M538.5 286V287M539.5 287V288M540.5 288V289M541.5 288V289M542.5 289V290M543.5 290V291M544.5 290V291M545.5 291V292M546.5 292V293M547.5 292V293M548.5 293V294M549.5 293V294M550.5 294V295M551.5 295V296M552.5 295V296M553.5 296V297M554.5 297V298M555.5 297V298M556.5 298V299M557.5 299V300M558.5 299V300M559.5 300V301M560.5 300V301M561.5 300V301M562.5 300V301M563.5 300V301M564.5 301V302M565.5 301V302M566.5 300V301M567.5 297V300M568.5 294V297M569.5 290V294M570.5 287V290M571.5 284V287M572.5 281V284M573.5 278V281M574.5 275V278M575.5 273V275M576.5 270V273M577.5 267V270M578.5 265V267M579.5 262V265M580.5 260V262M581.5 257V260M582.5 255V257M583.5 253V255M584.5 251V253M585.5 249V251M586.5 247V249M587.5 245V247M588.5 242V245M589.5 239V242M590.5 236V239M591.5 233V236M592.5 229V233M593.5 225V229M594.5 222V225M595.5 218V222M596.5 215V218M597.5 211V215M598.5 208V211M599.5 204V208M600.5 201V204M601.5 198V201M602.5 195V198M603.5 192V195M604.5 190V192M605.5 188V190M606.5 187V188M607.5 187V188M608.5 186V187M609.5 186V187M610.5 186V187M611.5 185V186M612.5 186V187M613.5 186V187M614.5 187V188M615.5 188V189M616.5 189V190M617.5 189V190M618.5 189V190M619.5 189V190M620.5 188V189M621.5 188V189M622.5 188V189M623.5 188V189M624.5 188V189M625.5 187V188M626.5 187V188M627.5 187V188M628.5 187V188M629.5 187V188M630.5 187V188M631.5 187V188M632.5 188V189M633.5 188V189M634.5 189V190M635.5 190V191M636.5 191V193M637.5 193V194M638.5 194V196M639.5 196V198M640.5 198V200M641.5 200V202M642.5 202V204M643.5 204V206M644.5 206V208M645.5 208V209M646.5 209V211M647.5 211V213M648.5 213V214M649.5 214V216M650.5 216V217M651.5 217V218M652.5 218V219M653.5 218V219M654.5 219V220M655.5 219V220M656.5 219V220M657.5 219V220M658.5 219V220M659.5 219V220M660.5 218V219M661.5 217V218M662.5 217V218M663.5 216V217M664.5 215V216M665.5 216V217M666.5 216V217M667.5 217V218M668.5 218V219M669.5 218V219M670.5 219V220M671.5 219V220M672.5 220V221M673.5 220V221M674.5 221V222M675.5 221V222M676.5 222V223M677.5 222V223M678.5 221V222M679.5 221V222M680.5 220V221M681.5 219V220M682.5 218V219M683.5 217V218M684.5 216V217M685.5 215V216M686.5 214V215M687.5 212V214M688.5 211V212M689.5 210V211M690.5 209V210M691.5 208V209M692.5 207V208M693.5 206V207M694.5 205V206M695.5 204V205M696.5 204V205M697.5 203V204M698.5 203V204M699.5 203V204M700.5 204V205M701.5 204V205M702.5 205V206M703.5 206V208M704.5 208V210M705.5 210V211M706.5 210V211M707.5 210V211M708.5 210V211M709.5 209V210M710.5 209V210M711.5 209V210M712.5 208V209M713.5 208V209M714.5 208V209M715.5 208V209M716.5 207V208M717.5 207V208M718.5 207V208M719.5 207V208M720.5 207V208M721.5 206V207M722.5 206V207M723.5 205V206M724.5 203V205M725.5 201V203M726.5 199V201M727.5 197V199M728.5 195V197M729.5 193V195M730.5 191V193M731.5 189V191M732.5 187V189M733.5 186V187M734.5 184V186M735.5 183V184M736.5 182V183M737.5 181V182M738.5 180V181M739.5 179V181M740.5 178V179M741.5 176V178M742.5 174V176M743.5 172V174M744.5 170V172M745.5 168V170M746.5 166V168M747.5 163V166M748.5 161V163M749.5 160V161M750.5 159V160M751.5 157V159M752.5 156V157M753.5 155V156M754.5 154V155M755.5 153V154M756.5 152V153M757.5 151V152M758.5 150V151M759.5 149V150M760.5 148V149M761.5 147V148M762.5 146V147M763.5 145V146M764.5 144V145M765.5 144V145M766.5 143V144M767.5 143V144M768.5 143V144M769.5 144V145M770.5 144V145M771.5 145V146M772.5 145V146M773.5 146V147M774.5 146V147M775.5 147V148M776.5 147V148M777.5 147V148M778.5 147V148M779.5 148V149M780.5 148V149M781.5 148V149M782.5 149V150M783.5 149V150M784.5 150V152M785.5 152V153M786.5 153V155M787.5 155V157M788.5 157V158M789.5 158V160M790.5 160V162M791.5 162V163M792.5 163V165M793.5 165V166M794.5 166V168M795.5 168V169M796.5 169V171M797.5 171V172M798.5 172V174M799.5 174V176M800.5 176V177M801.5 177V179M802.5 179V181M803.5 181V184M804.5 184V186M805.5 186V188M806.5 188V189M807.5 189V191M808.5 191V193M809.5 193V195M810.5 195V196M811.5 196V198M812.5 198V200M813.5 200V201M814.5 201V203M815.5 203V204M816.5 204V205M817.5 205V206M818.5 206V207M819.5 207V208M820.5 208V209M821.5 208V209M822.5 208V209M823.5 208V209M824.5 208V209M825.5 207V208M826.5 207V208M827.5 206V207M828.5 205V206M829.5 205V206M830.5 204V205M831.5 203V204M832.5 201V203M833.5 200V201M834.5 198V200M835.5 196V198M836.5 194V196M837.5 191V194M838.5 189V191M839.5 187V189M840.5 184V187M841.5 182V184M842.5 180V182M843.5 178V180M844.5 176V178M845.5 174V176M846.5 172V174M847.5 170V172M848.5 169V170M849.5 167V169M850.5 166V167M851.5 165V166M852.5 164V165M853.5 163V164M854.5 162V163M855.5 161V162M856.5 160V161M857.5 159V160M858.5 159V160M859.5 158V159M860.5 158V159M861.5 157V158M862.5 157V158M863.5 157V158M864.5 156V157M865.5 156V157M866.5 156V157M867.5 156V157M868.5 157V158M869.5 157V158M870.5 158V159M871.5 159V160M872.5 159V160M873.5 160V161M874.5 161V162M875.5 162V163M876.5 162V163M877.5 163V164M878.5 164V165M879.5 164V166M880.5 166V167M881.5 167V169M882.5 169V170M883.5 170V172M884.5 172V173M885.5 173V174M886.5 174V175M887.5 175V176M888.5 175V176M889.5 176V177M890.5 176V177M891.5 177V178M892.5 177V178M893.5 178V179M894.5 178V179M895.5 178V179M896.5 178V179M897.5 178V179M898.5 178V179M899.5 179V180M900.5 179V180M901.5 179V180M902.5 180V181M903.5 181V182M904.5 182V183M905.5 183V185M906.5 185V186M907.5 186V187M908.5 187V188M909.5 188V189M910.5 188V189M911.5 189V190M912.5 190V191M913.5 191V192M914.5 192V193M915.5 192V193M916.5 193V194M917.5 193V194M918.5 193V194M919.5 194V195M920.5 194V195M921.5 194V195M922.5 194V195M923.5 193V194M924.5 193V194M925.5 193V194M926.5 194V196M927.5 196V197M928.5 197V198M929.5 198V199M930.5 199V200M931.5 200V201M932.5 201V202M933.5 202V203M934.5 202V203M935.5 203V204M936.5 203V204M937.5 203V204M938.5 203V204M939.5 203V204M940.5 203V204M941.5 203V204M942.5 204V205M943.5 204V205M944.5 204V205M945.5 204V205M946.5 204V205M947.5 205V206M948.5 204V205M949.5 204V205M950.5 202V204M951.5 201V202M952.5 200V201M953.5 198V200M954.5 196V198M955.5 194V196M956.5 192V194M957.5 190V192M958.5 189V190" stroke="#4b0082" stroke-width="1" fill="none" shape-rendering="crispEdges"/>
<path d="M6.5 79V82M7.5 82V87M8.5 87V91M9.5 91V97M10.5 97V102M11.5 102V109M12.5 109V115M13.5 115V122M14.5 122V129M15.5 129V137M16.5 137V145M17.5 145V153M18.5 153V161M19.5 161V169M20.5 169V177M21.5 177V186M22.5 186V193M23.5 193V198M24.5 198V201M25.5 201V204M26.5 204V207M27.5 207V210M28.5 210V213M29.5 213V215M30.5 215V218M31.5 218V221M32.5 221V223M33.5 223V225M34.5 225V226M35.5 226V227M36.5 225V226M37.5 225V226M38.5 224V225M39.5 223V224M40.5 223V224M41.5 223V224M42.5 223V224M43.5 223V224M44.5 222V223M45.5 222V223M46.5 222V223M47.5 222V223M48.5 223V224M49.5 224V225M50.5 225V227M51.5 227V229M52.5 229V232M53.5 232V235M54.5 235V237M55.5 237V240M56.5 240V242M57.5 242V244M58.5 244V245M59.5 245V246M60.5 245V246M61.5 244V245M62.5 243V244M63.5 242V243M64.5 241V242M65.5 240V241M66.5 239V240M67.5 238V239M68.5 237V238M69.5 238V239M70.5 239V240M71.5 240V242M72.5 242V244M73.5 244V246M74.5 246V247M75.5 247V249M76.5 249V251M77.5 251V252M78.5 252V254M79.5 254V255M80.5 255V256M81.5 254V255M82.5 252V254M83.5 249V252M84.5 245V249M85.5 241V245M86.5 237V241M87.5 234V237M88.5 231V234M89.5 227V231M90.5 225V227M91.5 222V225M92.5 221V222M93.5 220V221M94.5 219V220M95.5 219V220M96.5 220V221M97.5 220V221M98.5 221V222M99.5 222V224M100.5 224V226M101.5 226V229M102.5 229V231M103.5 231V233M104.5 233V236M105.5 236V238M106.5 238V241M107.5 241V242M108.5 242V243M109.5 242V243M110.5 242V243M111.5 240V242M112.5 237V240M113.5 232V237M114.5 226V232M115.5 220V226M116.5 212V220M117.5 204V212M118.5 196V204M119.5 189V196M120.5 184V189M121.5 179V184M122.5 175V179M123.5 171V175M124.5 168V171M125.5 165V168M126.5 163V165M127.5 162V163M128.5 161V162M129.5 161V162M130.5 162V163M131.5 163V166M132.5 166V170M133.5 170V173M134.5 173V177M135.5 177V180M136.5 180V183M137.5 183V186M138.5 186V189M139.5 189V192M140.5 192V196M141.5 196V198M142.5 198V200M143.5 200V202M144.5 202V205M145.5 205V207M146.5 207V209M147.5 209V212M148.5 212V215M149.5 215V217M150.5 217V219M151.5 219V220M152.5 220V222M153.5 222V223M154.5 222V223M155.5 223V224M156.5 223V224M157.5 223V224M158.5 222V223M159.5 221V222M160.5 220V221M161.5 221V222M162.5 221V223M163.5 223V225M164.5 225V227M165.5 227V231M166.5 231V234M167.5 234V237M168.5 237V241M169.5 241V243M170.5 243V246M171.5 246V249M172.5 249V251M173.5 251V253M174.5 253V254M175.5 254V255M176.5 254V256M177.5 252V254M178.5 249V252M179.5 245V249M180.5 241V245M181.5 237V241M182.5 233V237M183.5 228V233M184.5 223V228M185.5 218V223M186.5 215V218M187.5 213V215M188.5 212V213M189.5 213V216M190.5 216V221M191.5 221V227M192.5 227V232M193.5 232V236M194.5 236V241M195.5 241V245M196.5 245V248M197.5 248V250M198.5 250V251M199.5 250V251M200.5 249V250M201.5 247V249M202.5 246V247M203.5 244V246M204.5 241V244M205.5 235V241M206.5 229V235M207.5 224V229M208.5 220V224M209.5 219V220M210.5 218V219M211.5 217V218M212.5 218V219M213.5 219V220M214.5 220V222M215.5 222V224M216.5 224V226M217.5 226V229M218.5 229V231M219.5 231V232M220.5 231V232M221.5 232V233M222.5 232V233M223.5 233V234M224.5 233V234M225.5 234V235M226.5 235V236M227.5 236V237M228.5 237V238M229.5 238V240M230.5 240V242M231.5 242V244M232.5 244V247M233.5 247V251M234.5 251V255M235.5 255V261M236.5 261V267M237.5 267V273M238.5 273V281M239.5 281V290M240.5 290V295M241.5 295V300M242.5 300V305M243.5 305V311M244.5 311V316M245.5 316V321M246.5 321V327M247.5 327V332M248.5 332V337M249.5 337V341M250.5 341V344M251.5 344V346M252.5 346V347M253.5 347V348M254.5 348V349M255.5 349V350M256.5 349V351M257.5 351V352M258.5 352V354M259.5 354V355M260.5 355V357M261.5 357V359M262.5 359V360M263.5 360V362M264.5 362V363M265.5 363V365M266.5 365V366M267.5 366V367M268.5 367V368M269.5 367V368M270.5 366V367M271.5 365V367M272.5 364V365M273.5 363V364M274.5 361V363M275.5 360V361M276.5 358V360M277.5 357V358M278.5 356V357M279.5 355V356M280.5 354V355M281.5 353V354M282.5 354V356M283.5 356V358M284.5 358V361M285.5 361V364M286.5 364V366M287.5 366V369M288.5 369V372M289.5 372V375M290.5 375V378M291.5 378V380M292.5 380V383M293.5 383V384M294.5 384V385M295.5 385V386M296.5 385V386M297.5 384V385M298.5 382V384M299.5 379V382M300.5 376V379M301.5 373V376M302.5 370V373M303.5 366V370M304.5 363V366M305.5 360V363M306.5 358V360M307.5 355V358M308.5 353V355M309.5 352V353M310.5 350V352M311.5 349V350M312.5 348V349M313.5 347V348M314.5 346V347M315.5 345V346M316.5 345V346M317.5 345V346M318.5 345V346M319.5 346V347M320.5 347V348M321.5 348V350M322.5 350V351M323.5 351V353M324.5 353V354M325.5 354V356M326.5 356V357M327.5 357V358M328.5 357V358M329.5 357V358M330.5 357V358M331.5 357V358M332.5 355V357M333.5 353V355M334.5 349V353M335.5 345V349M336.5 340V345M337.5 335V340M338.5 330V335M339.5 325V330M340.5 320V325M341.5 317V320M342.5 313V317M343.5 310V313M344.5 306V310M345.5 303V306M346.5 300V303M347.5 298V300M348.5 296V298M349.5 295V296M350.5 295V296M351.5 296V298M352.5 298V301M353.5 301V305M354.5 305V309M355.5 309V313M356.5 313V317M357.5 317V321M358.5 321V324M359.5 324V327M360.5 327V330M361.5 330V332M362.5 332V333M363.5 333V334M364.5 333V334M365.5 331V333M366.5 328V331M367.5 326V328M368.5 323V326M369.5 321V323M370.5 318V321M371.5 314V318M372.5 310V314M373.5 305V310M374.5 301V305M375.5 297V301M376.5 294V297M377.5 291V294M378.5 288V291M379.5 283V288M380.5 277V283M381.5 271V277M382.5 265V271M383.5 259V265M384.5 254V259M385.5 248V254M386.5 242V248M387.5 236V242M388.5 230V236M389.5 221V230M390.5 211V221M391.5 202V211M392.5 195V202M393.5 187V195M394.5 180V187M395.5 172V180M396.5 165V172M397.5 158V165M398.5 151V158M399.5 145V151M400.5 140V145M401.5 137V140M402.5 135V137M403.5 134V135M404.5 133V134M405.5 134V135M406.5 134V135M407.5 134V136M408.5 136V138M409.5 138V140M410.5 140V142M411.5 142V145M412.5 145V146M413.5 146V148M414.5 148V149M415.5 149V150M416.5 149V150M417.5 148V149M418.5 147V148M419.5 148V149M420.5 149V151M421.5 151V152M422.5 151V152M423.5 147V151M424.5 142V147M425.5 135V142M426.5 129V135M427.5 124V129M428.5 120V124M429.5 116V120M430.5 112V116M431.5 108V112M432.5 104V108M433.5 100V104M434.5 94V100M435.5 89V94M436.5 84V89M437.5 80V84M438.5 78V80M439.5 77V78M440.5 76V77M441.5 76V77M442.5 77V78M443.5 78V80M444.5 80V83M445.5 83V86M446.5 86V91M447.5 91V97M448.5 97V103M449.5 103V110M450.5 110V116M451.5 116V123M452.5 123V129M453.5 129V136M454.5 136V142M455.5 142V149M456.5 149V155M457.5 155V160M458.5 160V163M459.5 163V166M460.5 166V168M461.5 168V171M462.5 171V173M463.5 173V175M464.5 175V178M465.5 178V180M466.5 180V182M467.5 182V184M468.5 184V186M469.5 186V188M470.5 188V190M471.5 190V192M472.5 192V195M473.5 195V199M474.5 199V203M475.5 203V204M476.5 204V206M477.5 206V207M478.5 207V209M479.5 209V211M480.5 211V212M481.5 212V214M482.5 214V216M483.5 216V218M484.5 218V220M485.5 220V222M486.5 222V223M487.5 223V224M488.5 224V225M489.5 225V226M490.5 226V227M491.5 227V228M492.5 228V229M493.5 229V230M494.5 229V230M495.5 229V230M496.5 230V231M497.5 230V232M498.5 232V235M499.5 235V240M500.5 240V245M501.5 245V248M502.5 248V251M503.5 251V255M504.5 255V258M505.5 258V261M506.5 261V264M507.5 264V267M508.5 267V269M509.5 269V271M510.5 271V273M511.5 273V274M512.5 272V274M513.5 271V272M514.5 270V271M515.5 270V271M516.5 271V272M517.5 271V273M518.5 273V275M519.5 275V278M520.5 278V281M521.5 281V284M522.5 284V287M523.5 287V289M524.5 289V292M525.5 292V294M526.5 294V296M527.5 296V298M528.5 298V300M529.5 300V302M530.5 302V303M531.5 303V304M532.5 304V305M533.5 305V306M534.5 304V305M535.5 303V304M536.5 303V304M537.5 302V303M538.5 301V302M539.5 301V302M540.5 300V301M541.5 300V301M542.5 300V301M543.5 299V300M544.5 297V299M545.5 295V297M546.5 294V295M547.5 292V293M548.5 293V294M549.5 293V294M550.5 294V295M551.5 295V296M552.5 296V297M553.5 297V298M554.5 298V299M555.5 299V300M556.5 300V301M557.5 301V302M558.5 302V303M559.5 303V304M560.5 303V304M561.5 304V305M562.5 304V305M563.5 304V305M564.5 304V305M565.5 303V304M566.5 297V303M567.5 287V297M568.5 275V287M569.5 262V275M570.5 254V262M571.5 247V254M572.5 239V247M573.5 231V239M574.5 224V231M575.5 219V224M576.5 215V219M577.5 209V215M578.5 199V209M579.5 192V199M580.5 189V192M581.5 188V189M582.5 188V189M583.5 189V191M584.5 191V193M585.5 193V195M586.5 196V197M587.5 195V196M588.5 193V195M589.5 191V193M590.5 189V191M591.5 187V189M592.5 185V187M593.5 183V185M594.5 181V183M595.5 179V181M596.5 178V179M597.5 175V178M598.5 173V175M599.5 171V173M600.5 169V171M601.5 168V169M602.5 167V168M603.5 167V169M604.5 169V174M605.5 174V177M606.5 177V180M607.5 180V183M608.5 183V185M609.5 185V188M610.5 188V191M611.5 191V193M612.5 193V196M613.5 196V198M614.5 198V201M615.5 201V204M616.5 204V206M617.5 206V207M618.5 207V208M619.5 205V207M620.5 203V205M621.5 201V203M622.5 200V201M623.5 198V200M624.5 197V198M625.5 196V197M626.5 194V196M627.5 193V194M628.5 191V193M629.5 190V191M630.5 189V190M631.5 188V189M632.5 187V188M633.5 188V190M634.5 190V193M635.5 193V195M636.5 195V198M637.5 198V201M638.5 201V204M639.5 204V207M640.5 207V211M641.5 211V215M642.5 215V220M643.5 220V225M644.5 225V230M645.5 230V236M646.5 236V241M647.5 241V244M648.5 244V246M649.5 246V249M650.5 249V253M651.5 253V258M652.5 258V259M653.5 258V260M654.5 254V258M655.5 250V254M656.5 245V250M657.5 241V245M658.5 235V241M659.5 230V235M660.5 223V230M661.5 217V223M662.5 211V217M663.5 204V211M664.5 199V204M665.5 194V199M666.5 190V194M667.5 189V190M668.5 188V189M669.5 188V190M670.5 190V191M671.5 191V193M672.5 193V195M673.5 195V197M674.5 197V199M675.5 199V201M676.5 201V203M677.5 203V204M678.5 204V205M679.5 204V205M680.5 205V206M681.5 205V206M682.5 206V207M683.5 206V207M684.5 206V207M685.5 206V207M686.5 207V208M687.5 207V208M688.5 207V208M689.5 208V209M690.5 209V211M691.5 211V213M692.5 213V215M693.5 215V216M694.5 216V217M695.5 216V217M696.5 217V218M697.5 216V217M698.5 215V216M699.5 214V215M700.5 213V214M701.5 212V213M702.5 213V214M703.5 214V215M704.5 215V216M705.5 215V216M706.5 214V215M707.5 213V214M708.5 212V213M709.5 210V212M710.5 209V210M711.5 207V209M712.5 205V207M713.5 204V205M714.5 202V204M715.5 200V202M716.5 199V200M717.5 197V199M718.5 195V197M719.5 194V195M720.5 192V194M721.5 191V192M722.5 189V191M723.5 187V189M724.5 183V187M725.5 177V183M726.5 172V177M727.5 166V172M728.5 161V166M729.5 156V161M730.5 153V156M731.5 151V153M732.5 150V151M733.5 149V150M734.5 148V149M735.5 146V148M736.5 145V146M737.5 145V146M738.5 145V146M739.5 146V148M740.5 148V150M741.5 150V154M742.5 154V158M743.5 158V159M744.5 156V158M745.5 152V156M746.5 149V152M747.5 147V149M748.5 144V147M749.5 142V144M750.5 140V142M751.5 138V140M752.5 136V138M753.5 134V136M754.5 133V134M755.5 132V133M756.5 132V133M757.5 132V134M758.5 134V135M759.5 135V137M760.5 137V139M761.5 139V141M762.5 141V143M763.5 143V145M764.5 145V146M765.5 146V147M766.5 144V146M767.5 143V144M768.5 143V144M769.5 144V145M770.5 145V147M771.5 147V149M772.5 149V150M773.5 150V152M774.5 152V153M775.5 153V154M776.5 154V155M777.5 154V156M778.5 156V157M779.5 157V159M780.5 159V161M781.5 161V164M782.5 164V167M783.5 167V171M784.5 171V176M785.5 176V179M786.5 179V181M787.5 181V183M788.5 183V185M789.5 185V187M790.5 187V189M791.5 189V190M792.5 190V192M793.5 192V194M794.5 194V196M795.5 196V198M796.5 198V199M797.5 199V201M798.5 201V203M799.5 203V205M800.5 205V206M801.5 206V208M802.5 208V210M803.5 210V212M804.5 212V214M805.5 214V216M806.5 216V218M807.5 218V220M808.5 220V221M809.5 221V222M810.5 222V223M811.5 223V224M812.5 224V225M813.5 225V226M814.5 225V226M815.5 225V226M816.5 225V226M817.5 224V225M818.5 221V224M819.5 217V221M820.5 214V217M821.5 209V214M822.5 205V209M823.5 201V205M824.5 196V201M825.5 191V196M826.5 186V191M827.5 181V186M828.5 177V181M829.5 173V177M830.5 170V173M831.5 167V170M832.5 164V167M833.5 161V164M834.5 158V161M835.5 155V158M836.5 152V155M837.5 149V152M838.5 145V149M839.5 142V145M840.5 138V142M841.5 135V138M842.5 131V135M843.5 129V131M844.5 128V129M845.5 127V128M846.5 127V128M847.5 128V129M848.5 129V131M849.5 131V134M850.5 134V137M851.5 137V140M852.5 140V145M853.5 145V150M854.5 150V156M855.5 156V161M856.5 161V168M857.5 168V174M858.5 174V178M859.5 178V180M860.5 180V181M861.5 181V182M862.5 182V183M863.5 182V183M864.5 182V183M865.5 182V183M866.5 182V183M867.5 181V182M868.5 180V181M869.5 178V180M870.5 177V178M871.5 175V177M872.5 174V175M873.5 174V175M874.5 173V174M875.5 173V174M876.5 173V174M877.5 173V174M878.5 173V174M879.5 173V174M880.5 173V174M881.5 173V174M882.5 174V175M883.5 174V175M884.5 174V175M885.5 173V174M886.5 172V173M887.5 172V173M888.5 171V172M889.5 172V173M890.5 173V175M891.5 175V177M892.5 177V178M893.5 178V179M894.5 179V180M895.5 180V181M896.5 181V182M897.5 182V184M898.5 184V185M899.5 185V187M900.5 187V189M901.5 189V192M902.5 192V195M903.5 195V197M904.5 197V201M905.5 201V205M906.5 205V208M907.5 208V211M908.5 211V213M909.5 213V214M910.5 214V215M911.5 214V215M912.5 213V214M913.5 212V213M914.5 210V212M915.5 208V210M916.5 206V208M917.5 204V206M918.5 202V204M919.5 200V202M920.5 198V200M921.5 196V198M922.5 193V196M923.5 191V193M924.5 189V191M925.5 188V189M926.5 187V188M927.5 186V187M928.5 186V188M929.5 188V191M930.5 191V194M931.5 194V197M932.5 197V200M933.5 200V203M934.5 203V207M935.5 207V210M936.5 210V211M937.5 211V212M938.5 211V212M939.5 212V213M940.5 212V213M941.5 212V213M942.5 213V214M943.5 213V214M944.5 213V214M945.5 214V215M946.5 214V215M947.5 213V215M948.5 210V213M949.5 205V210M950.5 199V205M951.5 194V199M952.5 188V194M953.5 183V188M954.5 178V183M955.5 173V178M956.5 167V173M957.5 162V167M958.5 157V162M959.5 156V157" stroke="#ff0000" stroke-width="1" fill="none" shape-rendering="crispEdges"/>
<rect x="5" y="79" width="1199" height="2" fill="#ff0000" shape-rendering="crispEdges"/>
<rect x="5" y="130" width="1199" height="2" fill="#ff0000" shape-rendering="crispEdges"/>
<rect x="4" y="128" width="6" height="6" fill="#ff0000" shape-rendering="crispEdges"/>
<rect x="6" y="130" width="2" height="2" fill="#fff" shape-rendering="crispEdges"/>
<rect x="1197" y="128" width="6" height="6" fill="#ff0000" shape-rendering="crispEdges"/>
<rect x="1199" y="130" width="2" height="2" fill="#fff" shape-rendering="crispEdges"/>
<rect x="5" y="184" width="1199" height="2" fill="#00ff00" shape-rendering="crispEdges"/>
<rect x="4" y="182" width="6" height="6" fill="#00ff00" shape-rendering="crispEdges"/>
<rect x="6" y="184" width="2" height="2" fill="#fff" shape-rendering="crispEdges"/>
<rect x="1197" y="182" width="6" height="6" fill="#00ff00" shape-rendering="crispEdges"/>
<rect x="1199" y="184" width="2" height="2" fill="#fff" shape-rendering="crispEdges"/>
<rect x="5" y="237" width="1199" height="2" fill="#0000ff" shape-rendering="crispEdges"/>
<rect x="4" y="235" width="6" height="6" fill="#0000ff" shape-rendering="crispEdges"/>
<rect x="6" y="237" width="2" height="2" fill="#fff" shape-rendering="crispEdges"/>
<rect x="1197" y="235" width="6" height="6" fill="#0000ff" shape-rendering="crispEdges"/>
<rect x="1199" y="237" width="2" height="2" fill="#fff" shape-rendering="crispEdges"/>
<rect x="5" y="289" width="1199" height="2" fill="#0000ff" shape-rendering="crispEdges"/>
<rect x="4" y="287" width="6" height="6" fill="#0000ff" shape-rendering="crispEdges"/>
<rect x="6" y="289" width="2" height="2" fill="#fff" shape-rendering="crispEdges"/>
<rect x="1197" y="287" width="6" height="6" fill="#0000ff" shape-rendering="crispEdges"/>
<rect x="1199" y="289" width="2" height="2" fill="#fff" shape-rendering="crispEdges"/>
<polygon points="957,24 967,24 962,29" fill="#c0c0c0"/>
<polygon points="8,30 15,30 11.5,34" fill="#000"/>
<polygon points="1222,610 1222,617 1218.5,613.5" fill="#8c8c8c"/>
<polygon points="1238,610 1238,617 1241.5,613.5" fill="#8c8c8c"/>
</svg>
<div class="t d" style="left:-4.2px;top:2px;font-size:9px;line-height:12px;height:12px;color:#3a3a3a;transform:scaleX(1.1711);-webkit-text-stroke:0">M5</div>
<div class="t d" style="left:24.2px;top:2px;font-size:9px;line-height:12px;height:12px;color:#3a3a3a;transform:scaleX(0.9575);-webkit-text-stroke:0">M15</div>
<div class="t d" style="left:52.3px;top:2px;font-size:9px;line-height:12px;height:12px;color:#3a3a3a;transform:scaleX(0.9523);-webkit-text-stroke:0">M30</div>
<div class="t d" style="left:83.2px;top:2px;font-size:9px;line-height:12px;height:12px;color:#3a3a3a;transform:scaleX(0.9685);-webkit-text-stroke:0">H1</div>
<div class="t d" style="left:110.3px;top:2px;font-size:9px;line-height:12px;height:12px;color:#3a3a3a;transform:scaleX(1.0485);-webkit-text-stroke:0">H4</div>
<div class="t d" style="left:139.3px;top:2px;font-size:9px;line-height:12px;height:12px;color:#3a3a3a;transform:scaleX(0.9560);-webkit-text-stroke:0">D1</div>
<div class="t d" style="left:166.4px;top:2px;font-size:9px;line-height:12px;height:12px;color:#3a3a3a;transform:scaleX(1.0325);-webkit-text-stroke:0">W1</div>
<div class="t d" style="left:193.2px;top:2px;font-size:9px;line-height:12px;height:12px;color:#3a3a3a;transform:scaleX(1.0622);-webkit-text-stroke:0">MN</div>
<div class="t" style="left:16.7px;top:607px;font-size:13.4px;line-height:16px;height:16px;color:#6e6e6e;transform:scaleX(0.8990);">EURUSD-,Daily</div>
<div class="t" style="left:123.4px;top:607px;font-size:13.4px;line-height:16px;height:16px;color:#6e6e6e;transform:scaleX(0.9265);">AUDUSD-,Daily</div>
<div class="t" style="left:233.8px;top:607px;font-size:13.4px;line-height:16px;height:16px;color:#000;transform:scaleX(0.8934);">USDCHF-,Daily</div>
<div class="t" style="left:340.7px;top:607px;font-size:13.4px;line-height:16px;height:16px;color:#6e6e6e;transform:scaleX(0.9127);">USDCAD-,Daily</div>
<div class="t" style="left:449.2px;top:607px;font-size:13.4px;line-height:16px;height:16px;color:#6e6e6e;transform:scaleX(0.9340);">USDCNH-,Daily</div>
<div class="t d" style="left:1209.2px;top:23px;font-size:9px;line-height:12px;height:12px;color:#000;transform:scaleX(0.8947);">0.95015</div>
<div class="t d" style="left:1209.2px;top:56px;font-size:9px;line-height:12px;height:12px;color:#000;transform:scaleX(0.8947);">0.94385</div>
<div class="t d" style="left:1209.2px;top:89px;font-size:9px;line-height:12px;height:12px;color:#000;transform:scaleX(0.8947);">0.93740</div>
<div class="t d" style="left:1209.2px;top:122px;font-size:9px;line-height:12px;height:12px;color:#000;transform:scaleX(0.8947);">0.93110</div>
<div class="t d" style="left:1209.2px;top:155px;font-size:9px;line-height:12px;height:12px;color:#000;transform:scaleX(0.8947);">0.92480</div>
<div class="t d" style="left:1209.2px;top:188px;font-size:9px;line-height:12px;height:12px;color:#000;transform:scaleX(0.8947);">0.91850</div>
<div class="t d" style="left:1209.2px;top:221px;font-size:9px;line-height:12px;height:12px;color:#000;transform:scaleX(0.8947);">0.91220</div>
<div class="t d" style="left:1209.2px;top:254px;font-size:9px;line-height:12px;height:12px;color:#000;transform:scaleX(0.8947);">0.90590</div>
<div class="t d" style="left:1209.2px;top:287px;font-size:9px;line-height:12px;height:12px;color:#000;transform:scaleX(0.8947);">0.89945</div>
<div class="t d" style="left:1209.2px;top:320px;font-size:9px;line-height:12px;height:12px;color:#000;transform:scaleX(0.8947);">0.89315</div>
<div class="t d" style="left:1209.2px;top:353px;font-size:9px;line-height:12px;height:12px;color:#000;transform:scaleX(0.8947);">0.88685</div>
<div class="t d" style="left:1209.2px;top:386px;font-size:9px;line-height:12px;height:12px;color:#000;transform:scaleX(0.8947);">0.88055</div>
<div class="t d" style="left:1209.2px;top:419px;font-size:9px;line-height:12px;height:12px;color:#000;transform:scaleX(0.8947);">0.87425</div>
<div class="t d" style="left:1206.8px;top:431px;font-size:9px;line-height:12px;height:12px;color:#000;transform:scaleX(0.9361);">0.010777</div>
<div class="t d" style="left:1206.8px;top:449px;font-size:9px;line-height:12px;height:12px;color:#000;transform:scaleX(0.9132);">0.00</div>
<div class="t d" style="left:1206.8px;top:463px;font-size:9px;line-height:12px;height:12px;color:#000;transform:scaleX(0.8897);">-0.00981</div>
<div class="t d" style="left:1206.8px;top:479px;font-size:9px;line-height:12px;height:12px;color:#000;transform:scaleX(0.8965);">100</div>
<div class="t d" style="left:1206.8px;top:504px;font-size:9px;line-height:12px;height:12px;color:#000;transform:scaleX(0.7859);">70</div>
<div class="t d" style="left:1206.8px;top:545px;font-size:9px;line-height:12px;height:12px;color:#000;transform:scaleX(0.8033);">30</div>
<div class="t d" style="left:1206.8px;top:569px;font-size:9px;line-height:12px;height:12px;color:#000;transform:scaleX(0.9081);">0</div>
<div class="r" style="left:1205px;top:120px;width:39px;height:11px;background:#000"></div>
<div class="t d" style="left:1209.2px;top:120px;font-size:9px;line-height:12px;height:12px;color:#fff;transform:scaleX(0.8947);">0.93152</div>
<div class="r" style="left:1205px;top:74px;width:39px;height:11px;background:#ff0000"></div>
<div class="t d" style="left:1209.2px;top:74px;font-size:9px;line-height:12px;height:12px;color:#fff;transform:scaleX(0.8947);">0.94013</div>
<div class="r" style="left:1205px;top:125px;width:39px;height:11px;background:#ff0000"></div>
<div class="t d" style="left:1209.2px;top:125px;font-size:9px;line-height:12px;height:12px;color:#fff;transform:scaleX(0.8947);">0.93040</div>
<div class="r" style="left:1205px;top:179px;width:39px;height:11px;background:#00ff00"></div>
<div class="t d" style="left:1209.2px;top:179px;font-size:9px;line-height:12px;height:12px;color:#fff;transform:scaleX(0.8947);">0.92006</div>
<div class="r" style="left:1205px;top:232px;width:39px;height:11px;background:#0000ff"></div>
<div class="t d" style="left:1209.2px;top:232px;font-size:9px;line-height:12px;height:12px;color:#fff;transform:scaleX(0.8947);">0.90992</div>
<div class="r" style="left:1205px;top:284px;width:39px;height:11px;background:#0000ff"></div>
<div class="t d" style="left:1209.2px;top:284px;font-size:9px;line-height:12px;height:12px;color:#fff;transform:scaleX(0.8947);">0.89998</div>
<div class="t d" style="left:3.6px;top:585px;font-size:9px;line-height:12px;height:12px;color:#000;transform:scaleX(0.9250);">20 Jul 2020</div>
<div class="t d" style="left:67.6px;top:585px;font-size:9px;line-height:12px;height:12px;color:#000;transform:scaleX(0.9250);">26 Aug 2020</div>
<div class="t d" style="left:131.6px;top:585px;font-size:9px;line-height:12px;height:12px;color:#000;transform:scaleX(0.9250);">2 Oct 2020</div>
<div class="t d" style="left:195.6px;top:585px;font-size:9px;line-height:12px;height:12px;color:#000;transform:scaleX(0.9250);">9 Nov 2020</div>
<div class="t d" style="left:259.6px;top:585px;font-size:9px;line-height:12px;height:12px;color:#000;transform:scaleX(0.9250);">16 Dec 2020</div>
<div class="t d" style="left:323.6px;top:585px;font-size:9px;line-height:12px;height:12px;color:#000;transform:scaleX(0.9250);">25 Jan 2021</div>
<div class="t d" style="left:387.6px;top:585px;font-size:9px;line-height:12px;height:12px;color:#000;transform:scaleX(0.9250);">3 Mar 2021</div>
<div class="t d" style="left:451.6px;top:585px;font-size:9px;line-height:12px;height:12px;color:#000;transform:scaleX(0.9250);">11 Apr 2021</div>
<div class="t d" style="left:515.6px;top:585px;font-size:9px;line-height:12px;height:12px;color:#000;transform:scaleX(0.9250);">18 May 2021</div>
<div class="t d" style="left:579.6px;top:585px;font-size:9px;line-height:12px;height:12px;color:#000;transform:scaleX(0.9250);">24 Jun 2021</div>
<div class="t d" style="left:643.6px;top:585px;font-size:9px;line-height:12px;height:12px;color:#000;transform:scaleX(0.9250);">1 Aug 2021</div>
<div class="t d" style="left:707.6px;top:585px;font-size:9px;line-height:12px;height:12px;color:#000;transform:scaleX(0.9250);">7 Sep 2021</div>
<div class="t d" style="left:771.6px;top:585px;font-size:9px;line-height:12px;height:12px;color:#000;transform:scaleX(0.9250);">14 Oct 2021</div>
<div class="t d" style="left:835.6px;top:585px;font-size:9px;line-height:12px;height:12px;color:#000;transform:scaleX(0.9250);">21 Nov 2021</div>
<div class="t d" style="left:899.6px;top:585px;font-size:9px;line-height:12px;height:12px;color:#000;transform:scaleX(0.9250);">28 Dec 2021</div>
<div class="t d" style="left:19.8px;top:26px;font-size:9px;line-height:12px;height:12px;color:#000;transform:scaleX(1.0280);">USDCHF-,Daily</div>
<div class="t d" style="left:93.7px;top:26px;font-size:9px;line-height:12px;height:12px;color:#000;transform:scaleX(0.8974);">0.93114</div>
<div class="t d" style="left:130.4px;top:26px;font-size:9px;line-height:12px;height:12px;color:#000;transform:scaleX(0.8840);">0.93176</div>
<div class="t d" style="left:166.1px;top:26px;font-size:9px;line-height:12px;height:12px;color:#000;transform:scaleX(0.8867);">0.93071</div>
<div class="t d" style="left:202.0px;top:26px;font-size:9px;line-height:12px;height:12px;color:#000;transform:scaleX(0.8813);">0.93152</div>
<div class="t d" style="left:9.4px;top:433px;font-size:9px;line-height:12px;height:12px;color:#000;transform:scaleX(0.9568);">MACD(12,26,9)</div>
<div class="t d" style="left:78.1px;top:433px;font-size:9px;line-height:12px;height:12px;color:#000;transform:scaleX(0.8709);">0.002942</div>
<div class="t d" style="left:119.1px;top:433px;font-size:9px;line-height:12px;height:12px;color:#000;transform:scaleX(0.8802);">0.000214</div>
<div class="t d" style="left:9.0px;top:481px;font-size:9px;line-height:12px;height:12px;color:#000;transform:scaleX(0.9850);">RSI(14)</div>
<div class="t d" style="left:44.5px;top:481px;font-size:9px;line-height:12px;height:12px;color:#000;transform:scaleX(0.8732);">65.9567</div>
</body></html>
